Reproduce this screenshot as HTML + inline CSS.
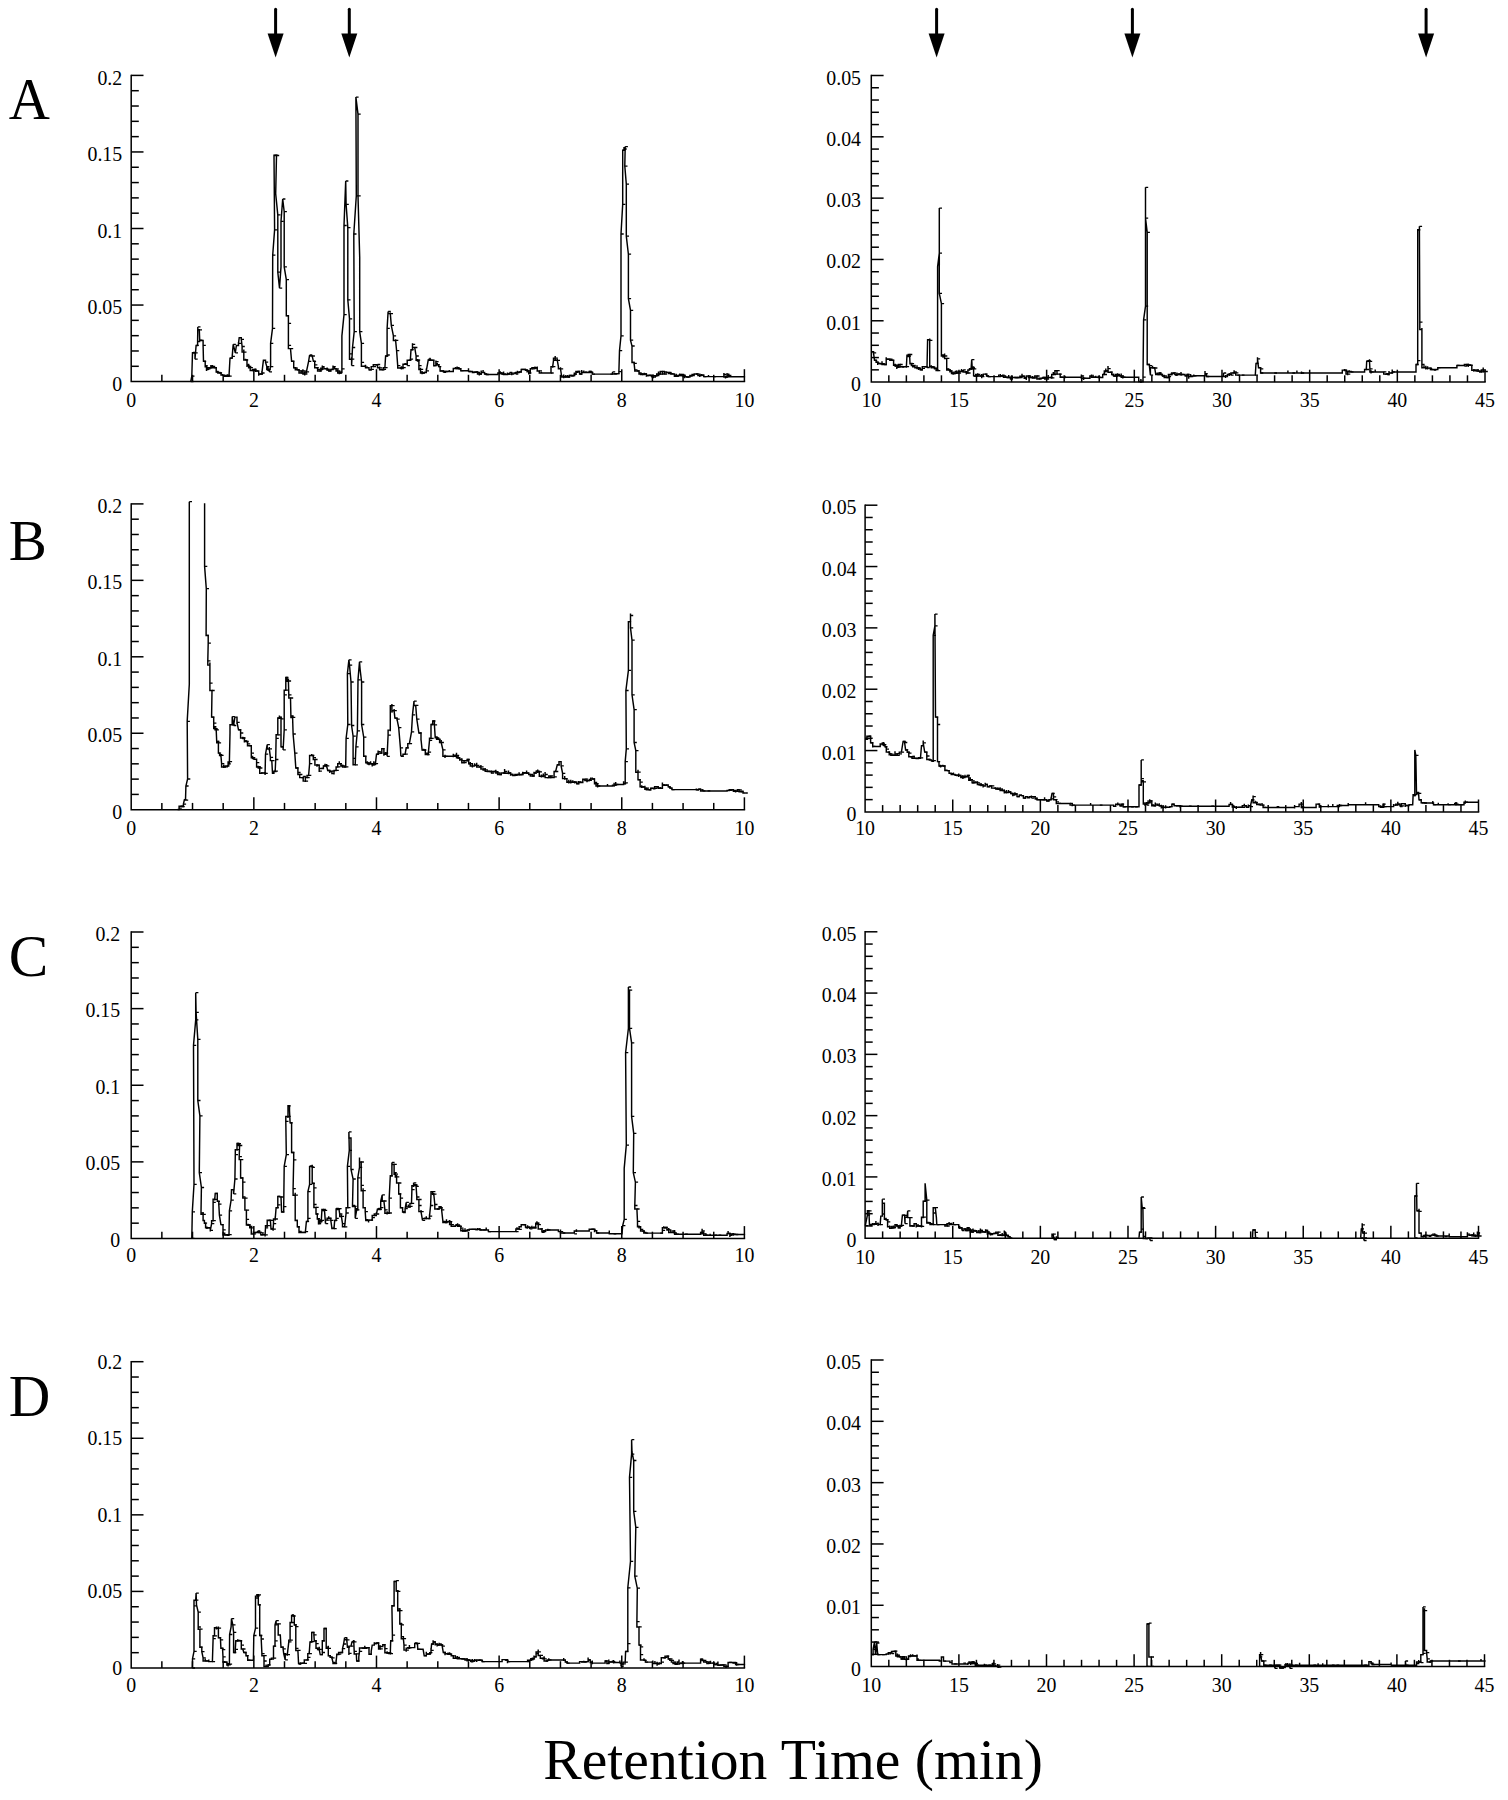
<!DOCTYPE html>
<html lang="en"><head><meta charset="utf-8"><title>Chromatograms</title>
<style>html,body{margin:0;padding:0;background:#fff}body{width:1508px;height:1800px;overflow:hidden}svg text{stroke:none;fill:#000}</style>
</head><body>
<svg width="1508" height="1800" viewBox="0 0 1508 1800" stroke="#000" fill="#000" font-family='"Liberation Serif", "Times New Roman", serif' style="display:block">
<g stroke="#000">
<path d="M131.20 74.65V381.60H745.15" fill="none" stroke-width="1.5"/>
<text transform="translate(122.20 390.80) scale(0.945 1)" text-anchor="end" font-size="21">0</text>
<line x1="131.20" y1="366.29" x2="138.80" y2="366.29" stroke-width="1.5"/>
<line x1="131.20" y1="350.98" x2="138.80" y2="350.98" stroke-width="1.5"/>
<line x1="131.20" y1="335.67" x2="138.80" y2="335.67" stroke-width="1.5"/>
<line x1="131.20" y1="320.36" x2="138.80" y2="320.36" stroke-width="1.5"/>
<line x1="131.20" y1="305.05" x2="143.50" y2="305.05" stroke-width="1.5"/>
<text transform="translate(122.20 314.25) scale(0.945 1)" text-anchor="end" font-size="21">0.05</text>
<line x1="131.20" y1="289.74" x2="138.80" y2="289.74" stroke-width="1.5"/>
<line x1="131.20" y1="274.43" x2="138.80" y2="274.43" stroke-width="1.5"/>
<line x1="131.20" y1="259.12" x2="138.80" y2="259.12" stroke-width="1.5"/>
<line x1="131.20" y1="243.81" x2="138.80" y2="243.81" stroke-width="1.5"/>
<line x1="131.20" y1="228.50" x2="143.50" y2="228.50" stroke-width="1.5"/>
<text transform="translate(122.20 237.70) scale(0.945 1)" text-anchor="end" font-size="21">0.1</text>
<line x1="131.20" y1="213.19" x2="138.80" y2="213.19" stroke-width="1.5"/>
<line x1="131.20" y1="197.88" x2="138.80" y2="197.88" stroke-width="1.5"/>
<line x1="131.20" y1="182.57" x2="138.80" y2="182.57" stroke-width="1.5"/>
<line x1="131.20" y1="167.26" x2="138.80" y2="167.26" stroke-width="1.5"/>
<line x1="131.20" y1="151.95" x2="143.50" y2="151.95" stroke-width="1.5"/>
<text transform="translate(122.20 161.15) scale(0.945 1)" text-anchor="end" font-size="21">0.15</text>
<line x1="131.20" y1="136.64" x2="138.80" y2="136.64" stroke-width="1.5"/>
<line x1="131.20" y1="121.33" x2="138.80" y2="121.33" stroke-width="1.5"/>
<line x1="131.20" y1="106.02" x2="138.80" y2="106.02" stroke-width="1.5"/>
<line x1="131.20" y1="90.71" x2="138.80" y2="90.71" stroke-width="1.5"/>
<line x1="131.20" y1="75.40" x2="143.50" y2="75.40" stroke-width="1.5"/>
<text transform="translate(122.20 84.60) scale(0.945 1)" text-anchor="end" font-size="21">0.2</text>
<text transform="translate(131.20 406.80) scale(0.945 1)" text-anchor="middle" font-size="21">0</text>
<line x1="161.86" y1="381.60" x2="161.86" y2="374.80" stroke-width="1.5"/>
<line x1="192.52" y1="381.60" x2="192.52" y2="374.80" stroke-width="1.5"/>
<line x1="223.18" y1="381.60" x2="223.18" y2="374.80" stroke-width="1.5"/>
<line x1="253.84" y1="381.60" x2="253.84" y2="369.20" stroke-width="1.5"/>
<text transform="translate(253.84 406.80) scale(0.945 1)" text-anchor="middle" font-size="21">2</text>
<line x1="284.50" y1="381.60" x2="284.50" y2="374.80" stroke-width="1.5"/>
<line x1="315.16" y1="381.60" x2="315.16" y2="374.80" stroke-width="1.5"/>
<line x1="345.82" y1="381.60" x2="345.82" y2="374.80" stroke-width="1.5"/>
<line x1="376.48" y1="381.60" x2="376.48" y2="369.20" stroke-width="1.5"/>
<text transform="translate(376.48 406.80) scale(0.945 1)" text-anchor="middle" font-size="21">4</text>
<line x1="407.14" y1="381.60" x2="407.14" y2="374.80" stroke-width="1.5"/>
<line x1="437.80" y1="381.60" x2="437.80" y2="374.80" stroke-width="1.5"/>
<line x1="468.46" y1="381.60" x2="468.46" y2="374.80" stroke-width="1.5"/>
<line x1="499.12" y1="381.60" x2="499.12" y2="369.20" stroke-width="1.5"/>
<text transform="translate(499.12 406.80) scale(0.945 1)" text-anchor="middle" font-size="21">6</text>
<line x1="529.78" y1="381.60" x2="529.78" y2="374.80" stroke-width="1.5"/>
<line x1="560.44" y1="381.60" x2="560.44" y2="374.80" stroke-width="1.5"/>
<line x1="591.10" y1="381.60" x2="591.10" y2="374.80" stroke-width="1.5"/>
<line x1="621.76" y1="381.60" x2="621.76" y2="369.20" stroke-width="1.5"/>
<text transform="translate(621.76 406.80) scale(0.945 1)" text-anchor="middle" font-size="21">8</text>
<line x1="652.42" y1="381.60" x2="652.42" y2="374.80" stroke-width="1.5"/>
<line x1="683.08" y1="381.60" x2="683.08" y2="374.80" stroke-width="1.5"/>
<line x1="713.74" y1="381.60" x2="713.74" y2="374.80" stroke-width="1.5"/>
<line x1="744.40" y1="381.60" x2="744.40" y2="369.20" stroke-width="1.5"/>
<text transform="translate(744.40 406.80) scale(0.945 1)" text-anchor="middle" font-size="21">10</text>
<path d="M131.20 503.15V809.70H745.15" fill="none" stroke-width="1.5"/>
<text transform="translate(122.20 818.50) scale(0.945 1)" text-anchor="end" font-size="21">0</text>
<line x1="131.20" y1="794.41" x2="138.80" y2="794.41" stroke-width="1.5"/>
<line x1="131.20" y1="779.12" x2="138.80" y2="779.12" stroke-width="1.5"/>
<line x1="131.20" y1="763.83" x2="138.80" y2="763.83" stroke-width="1.5"/>
<line x1="131.20" y1="748.54" x2="138.80" y2="748.54" stroke-width="1.5"/>
<line x1="131.20" y1="733.25" x2="143.50" y2="733.25" stroke-width="1.5"/>
<text transform="translate(122.20 742.05) scale(0.945 1)" text-anchor="end" font-size="21">0.05</text>
<line x1="131.20" y1="717.96" x2="138.80" y2="717.96" stroke-width="1.5"/>
<line x1="131.20" y1="702.67" x2="138.80" y2="702.67" stroke-width="1.5"/>
<line x1="131.20" y1="687.38" x2="138.80" y2="687.38" stroke-width="1.5"/>
<line x1="131.20" y1="672.09" x2="138.80" y2="672.09" stroke-width="1.5"/>
<line x1="131.20" y1="656.80" x2="143.50" y2="656.80" stroke-width="1.5"/>
<text transform="translate(122.20 665.60) scale(0.945 1)" text-anchor="end" font-size="21">0.1</text>
<line x1="131.20" y1="641.51" x2="138.80" y2="641.51" stroke-width="1.5"/>
<line x1="131.20" y1="626.22" x2="138.80" y2="626.22" stroke-width="1.5"/>
<line x1="131.20" y1="610.93" x2="138.80" y2="610.93" stroke-width="1.5"/>
<line x1="131.20" y1="595.64" x2="138.80" y2="595.64" stroke-width="1.5"/>
<line x1="131.20" y1="580.35" x2="143.50" y2="580.35" stroke-width="1.5"/>
<text transform="translate(122.20 589.15) scale(0.945 1)" text-anchor="end" font-size="21">0.15</text>
<line x1="131.20" y1="565.06" x2="138.80" y2="565.06" stroke-width="1.5"/>
<line x1="131.20" y1="549.77" x2="138.80" y2="549.77" stroke-width="1.5"/>
<line x1="131.20" y1="534.48" x2="138.80" y2="534.48" stroke-width="1.5"/>
<line x1="131.20" y1="519.19" x2="138.80" y2="519.19" stroke-width="1.5"/>
<line x1="131.20" y1="503.90" x2="143.50" y2="503.90" stroke-width="1.5"/>
<text transform="translate(122.20 512.70) scale(0.945 1)" text-anchor="end" font-size="21">0.2</text>
<text transform="translate(131.20 835.10) scale(0.945 1)" text-anchor="middle" font-size="21">0</text>
<line x1="161.86" y1="809.70" x2="161.86" y2="802.90" stroke-width="1.5"/>
<line x1="192.52" y1="809.70" x2="192.52" y2="802.90" stroke-width="1.5"/>
<line x1="223.18" y1="809.70" x2="223.18" y2="802.90" stroke-width="1.5"/>
<line x1="253.84" y1="809.70" x2="253.84" y2="797.30" stroke-width="1.5"/>
<text transform="translate(253.84 835.10) scale(0.945 1)" text-anchor="middle" font-size="21">2</text>
<line x1="284.50" y1="809.70" x2="284.50" y2="802.90" stroke-width="1.5"/>
<line x1="315.16" y1="809.70" x2="315.16" y2="802.90" stroke-width="1.5"/>
<line x1="345.82" y1="809.70" x2="345.82" y2="802.90" stroke-width="1.5"/>
<line x1="376.48" y1="809.70" x2="376.48" y2="797.30" stroke-width="1.5"/>
<text transform="translate(376.48 835.10) scale(0.945 1)" text-anchor="middle" font-size="21">4</text>
<line x1="407.14" y1="809.70" x2="407.14" y2="802.90" stroke-width="1.5"/>
<line x1="437.80" y1="809.70" x2="437.80" y2="802.90" stroke-width="1.5"/>
<line x1="468.46" y1="809.70" x2="468.46" y2="802.90" stroke-width="1.5"/>
<line x1="499.12" y1="809.70" x2="499.12" y2="797.30" stroke-width="1.5"/>
<text transform="translate(499.12 835.10) scale(0.945 1)" text-anchor="middle" font-size="21">6</text>
<line x1="529.78" y1="809.70" x2="529.78" y2="802.90" stroke-width="1.5"/>
<line x1="560.44" y1="809.70" x2="560.44" y2="802.90" stroke-width="1.5"/>
<line x1="591.10" y1="809.70" x2="591.10" y2="802.90" stroke-width="1.5"/>
<line x1="621.76" y1="809.70" x2="621.76" y2="797.30" stroke-width="1.5"/>
<text transform="translate(621.76 835.10) scale(0.945 1)" text-anchor="middle" font-size="21">8</text>
<line x1="652.42" y1="809.70" x2="652.42" y2="802.90" stroke-width="1.5"/>
<line x1="683.08" y1="809.70" x2="683.08" y2="802.90" stroke-width="1.5"/>
<line x1="713.74" y1="809.70" x2="713.74" y2="802.90" stroke-width="1.5"/>
<line x1="744.40" y1="809.70" x2="744.40" y2="797.30" stroke-width="1.5"/>
<text transform="translate(744.40 835.10) scale(0.945 1)" text-anchor="middle" font-size="21">10</text>
<path d="M131.20 931.25V1238.50H745.15" fill="none" stroke-width="1.5"/>
<text transform="translate(120.20 1247.10) scale(0.945 1)" text-anchor="end" font-size="21">0</text>
<line x1="131.20" y1="1223.17" x2="138.80" y2="1223.17" stroke-width="1.5"/>
<line x1="131.20" y1="1207.85" x2="138.80" y2="1207.85" stroke-width="1.5"/>
<line x1="131.20" y1="1192.53" x2="138.80" y2="1192.53" stroke-width="1.5"/>
<line x1="131.20" y1="1177.20" x2="138.80" y2="1177.20" stroke-width="1.5"/>
<line x1="131.20" y1="1161.88" x2="143.50" y2="1161.88" stroke-width="1.5"/>
<text transform="translate(120.20 1170.47) scale(0.945 1)" text-anchor="end" font-size="21">0.05</text>
<line x1="131.20" y1="1146.55" x2="138.80" y2="1146.55" stroke-width="1.5"/>
<line x1="131.20" y1="1131.22" x2="138.80" y2="1131.22" stroke-width="1.5"/>
<line x1="131.20" y1="1115.90" x2="138.80" y2="1115.90" stroke-width="1.5"/>
<line x1="131.20" y1="1100.58" x2="138.80" y2="1100.58" stroke-width="1.5"/>
<line x1="131.20" y1="1085.25" x2="143.50" y2="1085.25" stroke-width="1.5"/>
<text transform="translate(120.20 1093.85) scale(0.945 1)" text-anchor="end" font-size="21">0.1</text>
<line x1="131.20" y1="1069.92" x2="138.80" y2="1069.92" stroke-width="1.5"/>
<line x1="131.20" y1="1054.60" x2="138.80" y2="1054.60" stroke-width="1.5"/>
<line x1="131.20" y1="1039.28" x2="138.80" y2="1039.28" stroke-width="1.5"/>
<line x1="131.20" y1="1023.95" x2="138.80" y2="1023.95" stroke-width="1.5"/>
<line x1="131.20" y1="1008.62" x2="143.50" y2="1008.62" stroke-width="1.5"/>
<text transform="translate(120.20 1017.23) scale(0.945 1)" text-anchor="end" font-size="21">0.15</text>
<line x1="131.20" y1="993.30" x2="138.80" y2="993.30" stroke-width="1.5"/>
<line x1="131.20" y1="977.98" x2="138.80" y2="977.98" stroke-width="1.5"/>
<line x1="131.20" y1="962.65" x2="138.80" y2="962.65" stroke-width="1.5"/>
<line x1="131.20" y1="947.33" x2="138.80" y2="947.33" stroke-width="1.5"/>
<line x1="131.20" y1="932.00" x2="143.50" y2="932.00" stroke-width="1.5"/>
<text transform="translate(120.20 940.60) scale(0.945 1)" text-anchor="end" font-size="21">0.2</text>
<text transform="translate(131.20 1262.20) scale(0.945 1)" text-anchor="middle" font-size="21">0</text>
<line x1="161.86" y1="1238.50" x2="161.86" y2="1231.70" stroke-width="1.5"/>
<line x1="192.52" y1="1238.50" x2="192.52" y2="1231.70" stroke-width="1.5"/>
<line x1="223.18" y1="1238.50" x2="223.18" y2="1231.70" stroke-width="1.5"/>
<line x1="253.84" y1="1238.50" x2="253.84" y2="1226.10" stroke-width="1.5"/>
<text transform="translate(253.84 1262.20) scale(0.945 1)" text-anchor="middle" font-size="21">2</text>
<line x1="284.50" y1="1238.50" x2="284.50" y2="1231.70" stroke-width="1.5"/>
<line x1="315.16" y1="1238.50" x2="315.16" y2="1231.70" stroke-width="1.5"/>
<line x1="345.82" y1="1238.50" x2="345.82" y2="1231.70" stroke-width="1.5"/>
<line x1="376.48" y1="1238.50" x2="376.48" y2="1226.10" stroke-width="1.5"/>
<text transform="translate(376.48 1262.20) scale(0.945 1)" text-anchor="middle" font-size="21">4</text>
<line x1="407.14" y1="1238.50" x2="407.14" y2="1231.70" stroke-width="1.5"/>
<line x1="437.80" y1="1238.50" x2="437.80" y2="1231.70" stroke-width="1.5"/>
<line x1="468.46" y1="1238.50" x2="468.46" y2="1231.70" stroke-width="1.5"/>
<line x1="499.12" y1="1238.50" x2="499.12" y2="1226.10" stroke-width="1.5"/>
<text transform="translate(499.12 1262.20) scale(0.945 1)" text-anchor="middle" font-size="21">6</text>
<line x1="529.78" y1="1238.50" x2="529.78" y2="1231.70" stroke-width="1.5"/>
<line x1="560.44" y1="1238.50" x2="560.44" y2="1231.70" stroke-width="1.5"/>
<line x1="591.10" y1="1238.50" x2="591.10" y2="1231.70" stroke-width="1.5"/>
<line x1="621.76" y1="1238.50" x2="621.76" y2="1226.10" stroke-width="1.5"/>
<text transform="translate(621.76 1262.20) scale(0.945 1)" text-anchor="middle" font-size="21">8</text>
<line x1="652.42" y1="1238.50" x2="652.42" y2="1231.70" stroke-width="1.5"/>
<line x1="683.08" y1="1238.50" x2="683.08" y2="1231.70" stroke-width="1.5"/>
<line x1="713.74" y1="1238.50" x2="713.74" y2="1231.70" stroke-width="1.5"/>
<line x1="744.40" y1="1238.50" x2="744.40" y2="1226.10" stroke-width="1.5"/>
<text transform="translate(744.40 1262.20) scale(0.945 1)" text-anchor="middle" font-size="21">10</text>
<path d="M131.20 1360.95V1668.00H745.15" fill="none" stroke-width="1.5"/>
<text transform="translate(122.20 1675.00) scale(0.945 1)" text-anchor="end" font-size="21">0</text>
<line x1="131.20" y1="1652.68" x2="138.80" y2="1652.68" stroke-width="1.5"/>
<line x1="131.20" y1="1637.37" x2="138.80" y2="1637.37" stroke-width="1.5"/>
<line x1="131.20" y1="1622.06" x2="138.80" y2="1622.06" stroke-width="1.5"/>
<line x1="131.20" y1="1606.74" x2="138.80" y2="1606.74" stroke-width="1.5"/>
<line x1="131.20" y1="1591.42" x2="143.50" y2="1591.42" stroke-width="1.5"/>
<text transform="translate(122.20 1598.42) scale(0.945 1)" text-anchor="end" font-size="21">0.05</text>
<line x1="131.20" y1="1576.11" x2="138.80" y2="1576.11" stroke-width="1.5"/>
<line x1="131.20" y1="1560.80" x2="138.80" y2="1560.80" stroke-width="1.5"/>
<line x1="131.20" y1="1545.48" x2="138.80" y2="1545.48" stroke-width="1.5"/>
<line x1="131.20" y1="1530.16" x2="138.80" y2="1530.16" stroke-width="1.5"/>
<line x1="131.20" y1="1514.85" x2="143.50" y2="1514.85" stroke-width="1.5"/>
<text transform="translate(122.20 1521.85) scale(0.945 1)" text-anchor="end" font-size="21">0.1</text>
<line x1="131.20" y1="1499.54" x2="138.80" y2="1499.54" stroke-width="1.5"/>
<line x1="131.20" y1="1484.22" x2="138.80" y2="1484.22" stroke-width="1.5"/>
<line x1="131.20" y1="1468.90" x2="138.80" y2="1468.90" stroke-width="1.5"/>
<line x1="131.20" y1="1453.59" x2="138.80" y2="1453.59" stroke-width="1.5"/>
<line x1="131.20" y1="1438.28" x2="143.50" y2="1438.28" stroke-width="1.5"/>
<text transform="translate(122.20 1445.28) scale(0.945 1)" text-anchor="end" font-size="21">0.15</text>
<line x1="131.20" y1="1422.96" x2="138.80" y2="1422.96" stroke-width="1.5"/>
<line x1="131.20" y1="1407.64" x2="138.80" y2="1407.64" stroke-width="1.5"/>
<line x1="131.20" y1="1392.33" x2="138.80" y2="1392.33" stroke-width="1.5"/>
<line x1="131.20" y1="1377.02" x2="138.80" y2="1377.02" stroke-width="1.5"/>
<line x1="131.20" y1="1361.70" x2="143.50" y2="1361.70" stroke-width="1.5"/>
<text transform="translate(122.20 1368.70) scale(0.945 1)" text-anchor="end" font-size="21">0.2</text>
<text transform="translate(131.20 1691.80) scale(0.945 1)" text-anchor="middle" font-size="21">0</text>
<line x1="161.86" y1="1668.00" x2="161.86" y2="1661.20" stroke-width="1.5"/>
<line x1="192.52" y1="1668.00" x2="192.52" y2="1661.20" stroke-width="1.5"/>
<line x1="223.18" y1="1668.00" x2="223.18" y2="1661.20" stroke-width="1.5"/>
<line x1="253.84" y1="1668.00" x2="253.84" y2="1655.60" stroke-width="1.5"/>
<text transform="translate(253.84 1691.80) scale(0.945 1)" text-anchor="middle" font-size="21">2</text>
<line x1="284.50" y1="1668.00" x2="284.50" y2="1661.20" stroke-width="1.5"/>
<line x1="315.16" y1="1668.00" x2="315.16" y2="1661.20" stroke-width="1.5"/>
<line x1="345.82" y1="1668.00" x2="345.82" y2="1661.20" stroke-width="1.5"/>
<line x1="376.48" y1="1668.00" x2="376.48" y2="1655.60" stroke-width="1.5"/>
<text transform="translate(376.48 1691.80) scale(0.945 1)" text-anchor="middle" font-size="21">4</text>
<line x1="407.14" y1="1668.00" x2="407.14" y2="1661.20" stroke-width="1.5"/>
<line x1="437.80" y1="1668.00" x2="437.80" y2="1661.20" stroke-width="1.5"/>
<line x1="468.46" y1="1668.00" x2="468.46" y2="1661.20" stroke-width="1.5"/>
<line x1="499.12" y1="1668.00" x2="499.12" y2="1655.60" stroke-width="1.5"/>
<text transform="translate(499.12 1691.80) scale(0.945 1)" text-anchor="middle" font-size="21">6</text>
<line x1="529.78" y1="1668.00" x2="529.78" y2="1661.20" stroke-width="1.5"/>
<line x1="560.44" y1="1668.00" x2="560.44" y2="1661.20" stroke-width="1.5"/>
<line x1="591.10" y1="1668.00" x2="591.10" y2="1661.20" stroke-width="1.5"/>
<line x1="621.76" y1="1668.00" x2="621.76" y2="1655.60" stroke-width="1.5"/>
<text transform="translate(621.76 1691.80) scale(0.945 1)" text-anchor="middle" font-size="21">8</text>
<line x1="652.42" y1="1668.00" x2="652.42" y2="1661.20" stroke-width="1.5"/>
<line x1="683.08" y1="1668.00" x2="683.08" y2="1661.20" stroke-width="1.5"/>
<line x1="713.74" y1="1668.00" x2="713.74" y2="1661.20" stroke-width="1.5"/>
<line x1="744.40" y1="1668.00" x2="744.40" y2="1655.60" stroke-width="1.5"/>
<text transform="translate(744.40 1691.80) scale(0.945 1)" text-anchor="middle" font-size="21">10</text>
<path d="M871.30 74.75V382.10H1485.75" fill="none" stroke-width="1.5"/>
<text transform="translate(861.00 391.10) scale(0.945 1)" text-anchor="end" font-size="21">0</text>
<line x1="871.30" y1="369.84" x2="878.90" y2="369.84" stroke-width="1.5"/>
<line x1="871.30" y1="357.57" x2="878.90" y2="357.57" stroke-width="1.5"/>
<line x1="871.30" y1="345.31" x2="878.90" y2="345.31" stroke-width="1.5"/>
<line x1="871.30" y1="333.04" x2="878.90" y2="333.04" stroke-width="1.5"/>
<line x1="871.30" y1="320.78" x2="883.60" y2="320.78" stroke-width="1.5"/>
<text transform="translate(861.00 329.78) scale(0.945 1)" text-anchor="end" font-size="21">0.01</text>
<line x1="871.30" y1="308.52" x2="878.90" y2="308.52" stroke-width="1.5"/>
<line x1="871.30" y1="296.25" x2="878.90" y2="296.25" stroke-width="1.5"/>
<line x1="871.30" y1="283.99" x2="878.90" y2="283.99" stroke-width="1.5"/>
<line x1="871.30" y1="271.72" x2="878.90" y2="271.72" stroke-width="1.5"/>
<line x1="871.30" y1="259.46" x2="883.60" y2="259.46" stroke-width="1.5"/>
<text transform="translate(861.00 268.46) scale(0.945 1)" text-anchor="end" font-size="21">0.02</text>
<line x1="871.30" y1="247.20" x2="878.90" y2="247.20" stroke-width="1.5"/>
<line x1="871.30" y1="234.93" x2="878.90" y2="234.93" stroke-width="1.5"/>
<line x1="871.30" y1="222.67" x2="878.90" y2="222.67" stroke-width="1.5"/>
<line x1="871.30" y1="210.40" x2="878.90" y2="210.40" stroke-width="1.5"/>
<line x1="871.30" y1="198.14" x2="883.60" y2="198.14" stroke-width="1.5"/>
<text transform="translate(861.00 207.14) scale(0.945 1)" text-anchor="end" font-size="21">0.03</text>
<line x1="871.30" y1="185.88" x2="878.90" y2="185.88" stroke-width="1.5"/>
<line x1="871.30" y1="173.61" x2="878.90" y2="173.61" stroke-width="1.5"/>
<line x1="871.30" y1="161.35" x2="878.90" y2="161.35" stroke-width="1.5"/>
<line x1="871.30" y1="149.08" x2="878.90" y2="149.08" stroke-width="1.5"/>
<line x1="871.30" y1="136.82" x2="883.60" y2="136.82" stroke-width="1.5"/>
<text transform="translate(861.00 145.82) scale(0.945 1)" text-anchor="end" font-size="21">0.04</text>
<line x1="871.30" y1="124.56" x2="878.90" y2="124.56" stroke-width="1.5"/>
<line x1="871.30" y1="112.29" x2="878.90" y2="112.29" stroke-width="1.5"/>
<line x1="871.30" y1="100.03" x2="878.90" y2="100.03" stroke-width="1.5"/>
<line x1="871.30" y1="87.76" x2="878.90" y2="87.76" stroke-width="1.5"/>
<line x1="871.30" y1="75.50" x2="883.60" y2="75.50" stroke-width="1.5"/>
<text transform="translate(861.00 84.50) scale(0.945 1)" text-anchor="end" font-size="21">0.05</text>
<text transform="translate(871.30 406.90) scale(0.945 1)" text-anchor="middle" font-size="21">10</text>
<line x1="888.83" y1="382.10" x2="888.83" y2="375.30" stroke-width="1.5"/>
<line x1="906.37" y1="382.10" x2="906.37" y2="375.30" stroke-width="1.5"/>
<line x1="923.90" y1="382.10" x2="923.90" y2="375.30" stroke-width="1.5"/>
<line x1="941.44" y1="382.10" x2="941.44" y2="375.30" stroke-width="1.5"/>
<line x1="958.97" y1="382.10" x2="958.97" y2="369.70" stroke-width="1.5"/>
<text transform="translate(958.97 406.90) scale(0.945 1)" text-anchor="middle" font-size="21">15</text>
<line x1="976.51" y1="382.10" x2="976.51" y2="375.30" stroke-width="1.5"/>
<line x1="994.04" y1="382.10" x2="994.04" y2="375.30" stroke-width="1.5"/>
<line x1="1011.57" y1="382.10" x2="1011.57" y2="375.30" stroke-width="1.5"/>
<line x1="1029.11" y1="382.10" x2="1029.11" y2="375.30" stroke-width="1.5"/>
<line x1="1046.64" y1="382.10" x2="1046.64" y2="369.70" stroke-width="1.5"/>
<text transform="translate(1046.64 406.90) scale(0.945 1)" text-anchor="middle" font-size="21">20</text>
<line x1="1064.18" y1="382.10" x2="1064.18" y2="375.30" stroke-width="1.5"/>
<line x1="1081.71" y1="382.10" x2="1081.71" y2="375.30" stroke-width="1.5"/>
<line x1="1099.25" y1="382.10" x2="1099.25" y2="375.30" stroke-width="1.5"/>
<line x1="1116.78" y1="382.10" x2="1116.78" y2="375.30" stroke-width="1.5"/>
<line x1="1134.31" y1="382.10" x2="1134.31" y2="369.70" stroke-width="1.5"/>
<text transform="translate(1134.31 406.90) scale(0.945 1)" text-anchor="middle" font-size="21">25</text>
<line x1="1151.85" y1="382.10" x2="1151.85" y2="375.30" stroke-width="1.5"/>
<line x1="1169.38" y1="382.10" x2="1169.38" y2="375.30" stroke-width="1.5"/>
<line x1="1186.92" y1="382.10" x2="1186.92" y2="375.30" stroke-width="1.5"/>
<line x1="1204.45" y1="382.10" x2="1204.45" y2="375.30" stroke-width="1.5"/>
<line x1="1221.99" y1="382.10" x2="1221.99" y2="369.70" stroke-width="1.5"/>
<text transform="translate(1221.99 406.90) scale(0.945 1)" text-anchor="middle" font-size="21">30</text>
<line x1="1239.52" y1="382.10" x2="1239.52" y2="375.30" stroke-width="1.5"/>
<line x1="1257.05" y1="382.10" x2="1257.05" y2="375.30" stroke-width="1.5"/>
<line x1="1274.59" y1="382.10" x2="1274.59" y2="375.30" stroke-width="1.5"/>
<line x1="1292.12" y1="382.10" x2="1292.12" y2="375.30" stroke-width="1.5"/>
<line x1="1309.66" y1="382.10" x2="1309.66" y2="369.70" stroke-width="1.5"/>
<text transform="translate(1309.66 406.90) scale(0.945 1)" text-anchor="middle" font-size="21">35</text>
<line x1="1327.19" y1="382.10" x2="1327.19" y2="375.30" stroke-width="1.5"/>
<line x1="1344.73" y1="382.10" x2="1344.73" y2="375.30" stroke-width="1.5"/>
<line x1="1362.26" y1="382.10" x2="1362.26" y2="375.30" stroke-width="1.5"/>
<line x1="1379.79" y1="382.10" x2="1379.79" y2="375.30" stroke-width="1.5"/>
<line x1="1397.33" y1="382.10" x2="1397.33" y2="369.70" stroke-width="1.5"/>
<text transform="translate(1397.33 406.90) scale(0.945 1)" text-anchor="middle" font-size="21">40</text>
<line x1="1414.86" y1="382.10" x2="1414.86" y2="375.30" stroke-width="1.5"/>
<line x1="1432.40" y1="382.10" x2="1432.40" y2="375.30" stroke-width="1.5"/>
<line x1="1449.93" y1="382.10" x2="1449.93" y2="375.30" stroke-width="1.5"/>
<line x1="1467.47" y1="382.10" x2="1467.47" y2="375.30" stroke-width="1.5"/>
<line x1="1485.00" y1="382.10" x2="1485.00" y2="369.70" stroke-width="1.5"/>
<text transform="translate(1485.00 406.90) scale(0.945 1)" text-anchor="middle" font-size="21">45</text>
<path d="M865.10 504.45V811.90H1479.25" fill="none" stroke-width="1.5"/>
<text transform="translate(856.50 820.90) scale(0.945 1)" text-anchor="end" font-size="21">0</text>
<line x1="865.10" y1="799.63" x2="872.70" y2="799.63" stroke-width="1.5"/>
<line x1="865.10" y1="787.36" x2="872.70" y2="787.36" stroke-width="1.5"/>
<line x1="865.10" y1="775.10" x2="872.70" y2="775.10" stroke-width="1.5"/>
<line x1="865.10" y1="762.83" x2="872.70" y2="762.83" stroke-width="1.5"/>
<line x1="865.10" y1="750.56" x2="877.40" y2="750.56" stroke-width="1.5"/>
<text transform="translate(856.50 759.56) scale(0.945 1)" text-anchor="end" font-size="21">0.01</text>
<line x1="865.10" y1="738.29" x2="872.70" y2="738.29" stroke-width="1.5"/>
<line x1="865.10" y1="726.02" x2="872.70" y2="726.02" stroke-width="1.5"/>
<line x1="865.10" y1="713.76" x2="872.70" y2="713.76" stroke-width="1.5"/>
<line x1="865.10" y1="701.49" x2="872.70" y2="701.49" stroke-width="1.5"/>
<line x1="865.10" y1="689.22" x2="877.40" y2="689.22" stroke-width="1.5"/>
<text transform="translate(856.50 698.22) scale(0.945 1)" text-anchor="end" font-size="21">0.02</text>
<line x1="865.10" y1="676.95" x2="872.70" y2="676.95" stroke-width="1.5"/>
<line x1="865.10" y1="664.68" x2="872.70" y2="664.68" stroke-width="1.5"/>
<line x1="865.10" y1="652.42" x2="872.70" y2="652.42" stroke-width="1.5"/>
<line x1="865.10" y1="640.15" x2="872.70" y2="640.15" stroke-width="1.5"/>
<line x1="865.10" y1="627.88" x2="877.40" y2="627.88" stroke-width="1.5"/>
<text transform="translate(856.50 636.88) scale(0.945 1)" text-anchor="end" font-size="21">0.03</text>
<line x1="865.10" y1="615.61" x2="872.70" y2="615.61" stroke-width="1.5"/>
<line x1="865.10" y1="603.34" x2="872.70" y2="603.34" stroke-width="1.5"/>
<line x1="865.10" y1="591.08" x2="872.70" y2="591.08" stroke-width="1.5"/>
<line x1="865.10" y1="578.81" x2="872.70" y2="578.81" stroke-width="1.5"/>
<line x1="865.10" y1="566.54" x2="877.40" y2="566.54" stroke-width="1.5"/>
<text transform="translate(856.50 575.54) scale(0.945 1)" text-anchor="end" font-size="21">0.04</text>
<line x1="865.10" y1="554.27" x2="872.70" y2="554.27" stroke-width="1.5"/>
<line x1="865.10" y1="542.00" x2="872.70" y2="542.00" stroke-width="1.5"/>
<line x1="865.10" y1="529.74" x2="872.70" y2="529.74" stroke-width="1.5"/>
<line x1="865.10" y1="517.47" x2="872.70" y2="517.47" stroke-width="1.5"/>
<line x1="865.10" y1="505.20" x2="877.40" y2="505.20" stroke-width="1.5"/>
<text transform="translate(856.50 514.20) scale(0.945 1)" text-anchor="end" font-size="21">0.05</text>
<text transform="translate(865.10 835.30) scale(0.945 1)" text-anchor="middle" font-size="21">10</text>
<line x1="882.63" y1="811.90" x2="882.63" y2="805.10" stroke-width="1.5"/>
<line x1="900.15" y1="811.90" x2="900.15" y2="805.10" stroke-width="1.5"/>
<line x1="917.68" y1="811.90" x2="917.68" y2="805.10" stroke-width="1.5"/>
<line x1="935.20" y1="811.90" x2="935.20" y2="805.10" stroke-width="1.5"/>
<line x1="952.73" y1="811.90" x2="952.73" y2="799.50" stroke-width="1.5"/>
<text transform="translate(952.73 835.30) scale(0.945 1)" text-anchor="middle" font-size="21">15</text>
<line x1="970.25" y1="811.90" x2="970.25" y2="805.10" stroke-width="1.5"/>
<line x1="987.78" y1="811.90" x2="987.78" y2="805.10" stroke-width="1.5"/>
<line x1="1005.31" y1="811.90" x2="1005.31" y2="805.10" stroke-width="1.5"/>
<line x1="1022.83" y1="811.90" x2="1022.83" y2="805.10" stroke-width="1.5"/>
<line x1="1040.36" y1="811.90" x2="1040.36" y2="799.50" stroke-width="1.5"/>
<text transform="translate(1040.36 835.30) scale(0.945 1)" text-anchor="middle" font-size="21">20</text>
<line x1="1057.88" y1="811.90" x2="1057.88" y2="805.10" stroke-width="1.5"/>
<line x1="1075.41" y1="811.90" x2="1075.41" y2="805.10" stroke-width="1.5"/>
<line x1="1092.93" y1="811.90" x2="1092.93" y2="805.10" stroke-width="1.5"/>
<line x1="1110.46" y1="811.90" x2="1110.46" y2="805.10" stroke-width="1.5"/>
<line x1="1127.99" y1="811.90" x2="1127.99" y2="799.50" stroke-width="1.5"/>
<text transform="translate(1127.99 835.30) scale(0.945 1)" text-anchor="middle" font-size="21">25</text>
<line x1="1145.51" y1="811.90" x2="1145.51" y2="805.10" stroke-width="1.5"/>
<line x1="1163.04" y1="811.90" x2="1163.04" y2="805.10" stroke-width="1.5"/>
<line x1="1180.56" y1="811.90" x2="1180.56" y2="805.10" stroke-width="1.5"/>
<line x1="1198.09" y1="811.90" x2="1198.09" y2="805.10" stroke-width="1.5"/>
<line x1="1215.61" y1="811.90" x2="1215.61" y2="799.50" stroke-width="1.5"/>
<text transform="translate(1215.61 835.30) scale(0.945 1)" text-anchor="middle" font-size="21">30</text>
<line x1="1233.14" y1="811.90" x2="1233.14" y2="805.10" stroke-width="1.5"/>
<line x1="1250.67" y1="811.90" x2="1250.67" y2="805.10" stroke-width="1.5"/>
<line x1="1268.19" y1="811.90" x2="1268.19" y2="805.10" stroke-width="1.5"/>
<line x1="1285.72" y1="811.90" x2="1285.72" y2="805.10" stroke-width="1.5"/>
<line x1="1303.24" y1="811.90" x2="1303.24" y2="799.50" stroke-width="1.5"/>
<text transform="translate(1303.24 835.30) scale(0.945 1)" text-anchor="middle" font-size="21">35</text>
<line x1="1320.77" y1="811.90" x2="1320.77" y2="805.10" stroke-width="1.5"/>
<line x1="1338.29" y1="811.90" x2="1338.29" y2="805.10" stroke-width="1.5"/>
<line x1="1355.82" y1="811.90" x2="1355.82" y2="805.10" stroke-width="1.5"/>
<line x1="1373.35" y1="811.90" x2="1373.35" y2="805.10" stroke-width="1.5"/>
<line x1="1390.87" y1="811.90" x2="1390.87" y2="799.50" stroke-width="1.5"/>
<text transform="translate(1390.87 835.30) scale(0.945 1)" text-anchor="middle" font-size="21">40</text>
<line x1="1408.40" y1="811.90" x2="1408.40" y2="805.10" stroke-width="1.5"/>
<line x1="1425.92" y1="811.90" x2="1425.92" y2="805.10" stroke-width="1.5"/>
<line x1="1443.45" y1="811.90" x2="1443.45" y2="805.10" stroke-width="1.5"/>
<line x1="1460.97" y1="811.90" x2="1460.97" y2="805.10" stroke-width="1.5"/>
<line x1="1478.50" y1="811.90" x2="1478.50" y2="799.50" stroke-width="1.5"/>
<text transform="translate(1478.50 835.30) scale(0.945 1)" text-anchor="middle" font-size="21">45</text>
<path d="M865.10 931.05V1238.20H1479.25" fill="none" stroke-width="1.5"/>
<text transform="translate(856.50 1247.30) scale(0.945 1)" text-anchor="end" font-size="21">0</text>
<line x1="865.10" y1="1225.94" x2="872.70" y2="1225.94" stroke-width="1.5"/>
<line x1="865.10" y1="1213.69" x2="872.70" y2="1213.69" stroke-width="1.5"/>
<line x1="865.10" y1="1201.43" x2="872.70" y2="1201.43" stroke-width="1.5"/>
<line x1="865.10" y1="1189.18" x2="872.70" y2="1189.18" stroke-width="1.5"/>
<line x1="865.10" y1="1176.92" x2="877.40" y2="1176.92" stroke-width="1.5"/>
<text transform="translate(856.50 1186.02) scale(0.945 1)" text-anchor="end" font-size="21">0.01</text>
<line x1="865.10" y1="1164.66" x2="872.70" y2="1164.66" stroke-width="1.5"/>
<line x1="865.10" y1="1152.41" x2="872.70" y2="1152.41" stroke-width="1.5"/>
<line x1="865.10" y1="1140.15" x2="872.70" y2="1140.15" stroke-width="1.5"/>
<line x1="865.10" y1="1127.90" x2="872.70" y2="1127.90" stroke-width="1.5"/>
<line x1="865.10" y1="1115.64" x2="877.40" y2="1115.64" stroke-width="1.5"/>
<text transform="translate(856.50 1124.74) scale(0.945 1)" text-anchor="end" font-size="21">0.02</text>
<line x1="865.10" y1="1103.38" x2="872.70" y2="1103.38" stroke-width="1.5"/>
<line x1="865.10" y1="1091.13" x2="872.70" y2="1091.13" stroke-width="1.5"/>
<line x1="865.10" y1="1078.87" x2="872.70" y2="1078.87" stroke-width="1.5"/>
<line x1="865.10" y1="1066.62" x2="872.70" y2="1066.62" stroke-width="1.5"/>
<line x1="865.10" y1="1054.36" x2="877.40" y2="1054.36" stroke-width="1.5"/>
<text transform="translate(856.50 1063.46) scale(0.945 1)" text-anchor="end" font-size="21">0.03</text>
<line x1="865.10" y1="1042.10" x2="872.70" y2="1042.10" stroke-width="1.5"/>
<line x1="865.10" y1="1029.85" x2="872.70" y2="1029.85" stroke-width="1.5"/>
<line x1="865.10" y1="1017.59" x2="872.70" y2="1017.59" stroke-width="1.5"/>
<line x1="865.10" y1="1005.34" x2="872.70" y2="1005.34" stroke-width="1.5"/>
<line x1="865.10" y1="993.08" x2="877.40" y2="993.08" stroke-width="1.5"/>
<text transform="translate(856.50 1002.18) scale(0.945 1)" text-anchor="end" font-size="21">0.04</text>
<line x1="865.10" y1="980.82" x2="872.70" y2="980.82" stroke-width="1.5"/>
<line x1="865.10" y1="968.57" x2="872.70" y2="968.57" stroke-width="1.5"/>
<line x1="865.10" y1="956.31" x2="872.70" y2="956.31" stroke-width="1.5"/>
<line x1="865.10" y1="944.06" x2="872.70" y2="944.06" stroke-width="1.5"/>
<line x1="865.10" y1="931.80" x2="877.40" y2="931.80" stroke-width="1.5"/>
<text transform="translate(856.50 940.90) scale(0.945 1)" text-anchor="end" font-size="21">0.05</text>
<text transform="translate(865.10 1263.70) scale(0.945 1)" text-anchor="middle" font-size="21">10</text>
<line x1="882.63" y1="1238.20" x2="882.63" y2="1231.40" stroke-width="1.5"/>
<line x1="900.15" y1="1238.20" x2="900.15" y2="1231.40" stroke-width="1.5"/>
<line x1="917.68" y1="1238.20" x2="917.68" y2="1231.40" stroke-width="1.5"/>
<line x1="935.20" y1="1238.20" x2="935.20" y2="1231.40" stroke-width="1.5"/>
<line x1="952.73" y1="1238.20" x2="952.73" y2="1225.80" stroke-width="1.5"/>
<text transform="translate(952.73 1263.70) scale(0.945 1)" text-anchor="middle" font-size="21">15</text>
<line x1="970.25" y1="1238.20" x2="970.25" y2="1231.40" stroke-width="1.5"/>
<line x1="987.78" y1="1238.20" x2="987.78" y2="1231.40" stroke-width="1.5"/>
<line x1="1005.31" y1="1238.20" x2="1005.31" y2="1231.40" stroke-width="1.5"/>
<line x1="1022.83" y1="1238.20" x2="1022.83" y2="1231.40" stroke-width="1.5"/>
<line x1="1040.36" y1="1238.20" x2="1040.36" y2="1225.80" stroke-width="1.5"/>
<text transform="translate(1040.36 1263.70) scale(0.945 1)" text-anchor="middle" font-size="21">20</text>
<line x1="1057.88" y1="1238.20" x2="1057.88" y2="1231.40" stroke-width="1.5"/>
<line x1="1075.41" y1="1238.20" x2="1075.41" y2="1231.40" stroke-width="1.5"/>
<line x1="1092.93" y1="1238.20" x2="1092.93" y2="1231.40" stroke-width="1.5"/>
<line x1="1110.46" y1="1238.20" x2="1110.46" y2="1231.40" stroke-width="1.5"/>
<line x1="1127.99" y1="1238.20" x2="1127.99" y2="1225.80" stroke-width="1.5"/>
<text transform="translate(1127.99 1263.70) scale(0.945 1)" text-anchor="middle" font-size="21">25</text>
<line x1="1145.51" y1="1238.20" x2="1145.51" y2="1231.40" stroke-width="1.5"/>
<line x1="1163.04" y1="1238.20" x2="1163.04" y2="1231.40" stroke-width="1.5"/>
<line x1="1180.56" y1="1238.20" x2="1180.56" y2="1231.40" stroke-width="1.5"/>
<line x1="1198.09" y1="1238.20" x2="1198.09" y2="1231.40" stroke-width="1.5"/>
<line x1="1215.61" y1="1238.20" x2="1215.61" y2="1225.80" stroke-width="1.5"/>
<text transform="translate(1215.61 1263.70) scale(0.945 1)" text-anchor="middle" font-size="21">30</text>
<line x1="1233.14" y1="1238.20" x2="1233.14" y2="1231.40" stroke-width="1.5"/>
<line x1="1250.67" y1="1238.20" x2="1250.67" y2="1231.40" stroke-width="1.5"/>
<line x1="1268.19" y1="1238.20" x2="1268.19" y2="1231.40" stroke-width="1.5"/>
<line x1="1285.72" y1="1238.20" x2="1285.72" y2="1231.40" stroke-width="1.5"/>
<line x1="1303.24" y1="1238.20" x2="1303.24" y2="1225.80" stroke-width="1.5"/>
<text transform="translate(1303.24 1263.70) scale(0.945 1)" text-anchor="middle" font-size="21">35</text>
<line x1="1320.77" y1="1238.20" x2="1320.77" y2="1231.40" stroke-width="1.5"/>
<line x1="1338.29" y1="1238.20" x2="1338.29" y2="1231.40" stroke-width="1.5"/>
<line x1="1355.82" y1="1238.20" x2="1355.82" y2="1231.40" stroke-width="1.5"/>
<line x1="1373.35" y1="1238.20" x2="1373.35" y2="1231.40" stroke-width="1.5"/>
<line x1="1390.87" y1="1238.20" x2="1390.87" y2="1225.80" stroke-width="1.5"/>
<text transform="translate(1390.87 1263.70) scale(0.945 1)" text-anchor="middle" font-size="21">40</text>
<line x1="1408.40" y1="1238.20" x2="1408.40" y2="1231.40" stroke-width="1.5"/>
<line x1="1425.92" y1="1238.20" x2="1425.92" y2="1231.40" stroke-width="1.5"/>
<line x1="1443.45" y1="1238.20" x2="1443.45" y2="1231.40" stroke-width="1.5"/>
<line x1="1460.97" y1="1238.20" x2="1460.97" y2="1231.40" stroke-width="1.5"/>
<line x1="1478.50" y1="1238.20" x2="1478.50" y2="1225.80" stroke-width="1.5"/>
<text transform="translate(1478.50 1263.70) scale(0.945 1)" text-anchor="middle" font-size="21">45</text>
<path d="M871.30 1359.25V1666.60H1485.25" fill="none" stroke-width="1.5"/>
<text transform="translate(861.00 1675.60) scale(0.945 1)" text-anchor="end" font-size="21">0</text>
<line x1="871.30" y1="1654.34" x2="878.90" y2="1654.34" stroke-width="1.5"/>
<line x1="871.30" y1="1642.07" x2="878.90" y2="1642.07" stroke-width="1.5"/>
<line x1="871.30" y1="1629.81" x2="878.90" y2="1629.81" stroke-width="1.5"/>
<line x1="871.30" y1="1617.54" x2="878.90" y2="1617.54" stroke-width="1.5"/>
<line x1="871.30" y1="1605.28" x2="883.60" y2="1605.28" stroke-width="1.5"/>
<text transform="translate(861.00 1614.28) scale(0.945 1)" text-anchor="end" font-size="21">0.01</text>
<line x1="871.30" y1="1593.02" x2="878.90" y2="1593.02" stroke-width="1.5"/>
<line x1="871.30" y1="1580.75" x2="878.90" y2="1580.75" stroke-width="1.5"/>
<line x1="871.30" y1="1568.49" x2="878.90" y2="1568.49" stroke-width="1.5"/>
<line x1="871.30" y1="1556.22" x2="878.90" y2="1556.22" stroke-width="1.5"/>
<line x1="871.30" y1="1543.96" x2="883.60" y2="1543.96" stroke-width="1.5"/>
<text transform="translate(861.00 1552.96) scale(0.945 1)" text-anchor="end" font-size="21">0.02</text>
<line x1="871.30" y1="1531.70" x2="878.90" y2="1531.70" stroke-width="1.5"/>
<line x1="871.30" y1="1519.43" x2="878.90" y2="1519.43" stroke-width="1.5"/>
<line x1="871.30" y1="1507.17" x2="878.90" y2="1507.17" stroke-width="1.5"/>
<line x1="871.30" y1="1494.90" x2="878.90" y2="1494.90" stroke-width="1.5"/>
<line x1="871.30" y1="1482.64" x2="883.60" y2="1482.64" stroke-width="1.5"/>
<text transform="translate(861.00 1491.64) scale(0.945 1)" text-anchor="end" font-size="21">0.03</text>
<line x1="871.30" y1="1470.38" x2="878.90" y2="1470.38" stroke-width="1.5"/>
<line x1="871.30" y1="1458.11" x2="878.90" y2="1458.11" stroke-width="1.5"/>
<line x1="871.30" y1="1445.85" x2="878.90" y2="1445.85" stroke-width="1.5"/>
<line x1="871.30" y1="1433.58" x2="878.90" y2="1433.58" stroke-width="1.5"/>
<line x1="871.30" y1="1421.32" x2="883.60" y2="1421.32" stroke-width="1.5"/>
<text transform="translate(861.00 1430.32) scale(0.945 1)" text-anchor="end" font-size="21">0.04</text>
<line x1="871.30" y1="1409.06" x2="878.90" y2="1409.06" stroke-width="1.5"/>
<line x1="871.30" y1="1396.79" x2="878.90" y2="1396.79" stroke-width="1.5"/>
<line x1="871.30" y1="1384.53" x2="878.90" y2="1384.53" stroke-width="1.5"/>
<line x1="871.30" y1="1372.26" x2="878.90" y2="1372.26" stroke-width="1.5"/>
<line x1="871.30" y1="1360.00" x2="883.60" y2="1360.00" stroke-width="1.5"/>
<text transform="translate(861.00 1369.00) scale(0.945 1)" text-anchor="end" font-size="21">0.05</text>
<text transform="translate(871.30 1691.70) scale(0.945 1)" text-anchor="middle" font-size="21">10</text>
<line x1="888.82" y1="1666.60" x2="888.82" y2="1659.80" stroke-width="1.5"/>
<line x1="906.34" y1="1666.60" x2="906.34" y2="1659.80" stroke-width="1.5"/>
<line x1="923.86" y1="1666.60" x2="923.86" y2="1659.80" stroke-width="1.5"/>
<line x1="941.38" y1="1666.60" x2="941.38" y2="1659.80" stroke-width="1.5"/>
<line x1="958.90" y1="1666.60" x2="958.90" y2="1654.20" stroke-width="1.5"/>
<text transform="translate(958.90 1691.70) scale(0.945 1)" text-anchor="middle" font-size="21">15</text>
<line x1="976.42" y1="1666.60" x2="976.42" y2="1659.80" stroke-width="1.5"/>
<line x1="993.94" y1="1666.60" x2="993.94" y2="1659.80" stroke-width="1.5"/>
<line x1="1011.46" y1="1666.60" x2="1011.46" y2="1659.80" stroke-width="1.5"/>
<line x1="1028.98" y1="1666.60" x2="1028.98" y2="1659.80" stroke-width="1.5"/>
<line x1="1046.50" y1="1666.60" x2="1046.50" y2="1654.20" stroke-width="1.5"/>
<text transform="translate(1046.50 1691.70) scale(0.945 1)" text-anchor="middle" font-size="21">20</text>
<line x1="1064.02" y1="1666.60" x2="1064.02" y2="1659.80" stroke-width="1.5"/>
<line x1="1081.54" y1="1666.60" x2="1081.54" y2="1659.80" stroke-width="1.5"/>
<line x1="1099.06" y1="1666.60" x2="1099.06" y2="1659.80" stroke-width="1.5"/>
<line x1="1116.58" y1="1666.60" x2="1116.58" y2="1659.80" stroke-width="1.5"/>
<line x1="1134.10" y1="1666.60" x2="1134.10" y2="1654.20" stroke-width="1.5"/>
<text transform="translate(1134.10 1691.70) scale(0.945 1)" text-anchor="middle" font-size="21">25</text>
<line x1="1151.62" y1="1666.60" x2="1151.62" y2="1659.80" stroke-width="1.5"/>
<line x1="1169.14" y1="1666.60" x2="1169.14" y2="1659.80" stroke-width="1.5"/>
<line x1="1186.66" y1="1666.60" x2="1186.66" y2="1659.80" stroke-width="1.5"/>
<line x1="1204.18" y1="1666.60" x2="1204.18" y2="1659.80" stroke-width="1.5"/>
<line x1="1221.70" y1="1666.60" x2="1221.70" y2="1654.20" stroke-width="1.5"/>
<text transform="translate(1221.70 1691.70) scale(0.945 1)" text-anchor="middle" font-size="21">30</text>
<line x1="1239.22" y1="1666.60" x2="1239.22" y2="1659.80" stroke-width="1.5"/>
<line x1="1256.74" y1="1666.60" x2="1256.74" y2="1659.80" stroke-width="1.5"/>
<line x1="1274.26" y1="1666.60" x2="1274.26" y2="1659.80" stroke-width="1.5"/>
<line x1="1291.78" y1="1666.60" x2="1291.78" y2="1659.80" stroke-width="1.5"/>
<line x1="1309.30" y1="1666.60" x2="1309.30" y2="1654.20" stroke-width="1.5"/>
<text transform="translate(1309.30 1691.70) scale(0.945 1)" text-anchor="middle" font-size="21">35</text>
<line x1="1326.82" y1="1666.60" x2="1326.82" y2="1659.80" stroke-width="1.5"/>
<line x1="1344.34" y1="1666.60" x2="1344.34" y2="1659.80" stroke-width="1.5"/>
<line x1="1361.86" y1="1666.60" x2="1361.86" y2="1659.80" stroke-width="1.5"/>
<line x1="1379.38" y1="1666.60" x2="1379.38" y2="1659.80" stroke-width="1.5"/>
<line x1="1396.90" y1="1666.60" x2="1396.90" y2="1654.20" stroke-width="1.5"/>
<text transform="translate(1396.90 1691.70) scale(0.945 1)" text-anchor="middle" font-size="21">40</text>
<line x1="1414.42" y1="1666.60" x2="1414.42" y2="1659.80" stroke-width="1.5"/>
<line x1="1431.94" y1="1666.60" x2="1431.94" y2="1659.80" stroke-width="1.5"/>
<line x1="1449.46" y1="1666.60" x2="1449.46" y2="1659.80" stroke-width="1.5"/>
<line x1="1466.98" y1="1666.60" x2="1466.98" y2="1659.80" stroke-width="1.5"/>
<line x1="1484.50" y1="1666.60" x2="1484.50" y2="1654.20" stroke-width="1.5"/>
<text transform="translate(1484.50 1691.70) scale(0.945 1)" text-anchor="middle" font-size="21">45</text>
<line x1="275.6" y1="9.3" x2="275.6" y2="36" stroke-width="3" stroke-linecap="round"/>
<path d="M267.6 33.6H283.6L275.6 57.5Z" fill="#000" stroke="none"/>
<line x1="349.3" y1="9.3" x2="349.3" y2="36" stroke-width="3" stroke-linecap="round"/>
<path d="M341.3 33.6H357.3L349.3 57.5Z" fill="#000" stroke="none"/>
<line x1="936.6" y1="9.3" x2="936.6" y2="36" stroke-width="3" stroke-linecap="round"/>
<path d="M928.6 33.6H944.6L936.6 57.5Z" fill="#000" stroke="none"/>
<line x1="1132.4" y1="9.3" x2="1132.4" y2="36" stroke-width="3" stroke-linecap="round"/>
<path d="M1124.4 33.6H1140.4L1132.4 57.5Z" fill="#000" stroke="none"/>
<line x1="1426.1" y1="9.3" x2="1426.1" y2="36" stroke-width="3" stroke-linecap="round"/>
<path d="M1418.1 33.6H1434.1L1426.1 57.5Z" fill="#000" stroke="none"/>
<text transform="translate(8.80 119.00) scale(0.955 1)" text-anchor="start" font-size="59.7">A</text>
<text transform="translate(8.80 559.60) scale(0.983 1)" text-anchor="start" font-size="58.0">B</text>
<text transform="translate(8.80 976.40) scale(0.993 1)" text-anchor="start" font-size="59.7">C</text>
<text transform="translate(8.80 1416.40) scale(0.981 1)" text-anchor="start" font-size="58.6">D</text>
<text transform="translate(793.10 1778.90) scale(1.006 1)" text-anchor="middle" font-size="57.3">Retention Time (min)</text>
<path d="M190.8 381.5L191.8 376.2L192.5 352.8H193.8V352.5H195.0V352.8L195.0 359.2L196.1 345.4H197.6V341.5L197.8 326.9V329.8H199.3L199.7 340.1V340.4H201.8H203.1V345.4v-1.6v2.8V345.4L203.5 361.3H205.2V365.9v-1.6v3.2V365.9H206.5V369.4v-1.2v2.8V369.4H207.8V368.8V367.8H209.4H210.9V366.6v-1.6v1.6V366.6V366.3H212.5v-1.2v2.8V366.3V367.7H214.1H216.2V371.9v-2.5v3.3V371.9H217.8V372.4v-1.6v2.8V372.4V373.0H219.4H221.0V374.0v-1.2v2.8V374.0V375.1H222.6v-1.2v2.0V375.1H224.2V375.5V376.2H225.8H227.4V375.5v-1.2v2.8V375.5V376.2H229.0L230.0 358.1H232.2V356.3L233.2 344.4L235.3 352.8L236.4 345.4H238.5V343.3v-1.2v2.0V343.3L239.2 337.6H241.3V339.3v-1.2v2.0V339.3L242.1 346.5V352.1H243.8v-2.5v3.7V352.1V360.0H245.5v-1.2v2.0V360.0H247.0V365.3v-2.5v4.1V365.3H248.6V366.3v-2.5v4.1V366.3V367.7H250.2v-1.6v2.8V367.7V370.6H252.3V369.4H253.9H255.5V370.9v-2.5v3.7V370.9H257.1V370.9H258.7V374.1v-2.5v4.1V374.1H260.3V374.0H261.9V373.0v-2v3.6V373.0L263.4 360.3H265.5V362.1v-2v2V362.1L266.8 366.6V369.4H268.0v-2.5v4.1V369.4H269.3V371.9L270.6 366.6L270.6 343.3L272.5 328.4L272.7 255.2L274.6 229.8L274.0 155.5V155.2H275.2H276.5V155.5L275.7 193.7L277.8 214.9L277.8 272.2L279.5 288.1L281.0 266.9L281.0 221.3L282.7 199.0L284.2 211.7L284.2 266.9L286.3 279.6L286.3 315.7H288.4V323.4L288.4 345.4V348.6H290.5L291.6 361.3H293.7V367.7v-2v2V367.7H295.3V369.4V369.8H296.9v-2.5v3.3V369.8H299.0V370.9v-2v2.8V370.9V373.0H301.1V370.9H302.9v-1.6v1.6V370.9V374.0H304.7v-2.5v4.1V374.0V371.9H306.4v-1.6v3.2V371.9L308.6 361.3L309.6 355.0V355.6H310.9V356.0H312.2L313.4 361.3H314.7V364.8V367.7H316.0H317.6V369.4V370.9H319.2H320.8V369.4v-2v2.8V369.4H322.3V366.6v-1.2v1.2V366.6H323.9V367.8V368.8H325.5H327.1V369.4v-2v3.6V369.4H328.7V370.9v-1.2v2.0V370.9H330.8V369.4H333.0V366.6v-1.2v1.2V366.6H334.5V367.8V368.8H336.1V370.9H337.7v-1.6v1.6V370.9V373.0H339.3v-2v3.2V373.0H340.6V372.4v-1.2v2.4V372.4H341.9V368.8v-2v2V368.8L341.9 335.9L344.0 314.6L344.0 225.5L345.7 181.0L346.1 204.3L347.8 227.6L347.8 299.8L349.5 318.9L349.5 353.9V359.2H351.6v-2v3.6V359.2L351.6 365.6L352.5 347.5L354.2 331.6L353.8 234.0L356.3 195.8L355.9 97.1L358.0 114.1L358.0 195.8L359.7 257.3L359.7 331.6L361.4 343.3L361.4 362.4V366.3H363.7V366.3H365.5v-1.6v2.4000000000000004V366.3V367.8H367.3v-1.2v1.2V367.8H369.0V369.8H371.2V369.4V366.6H373.3V364.8H375.4H377.5V364.5V367.8H379.6v-1.2v2.8V367.8V369.8H381.8V369.4H383.4V367.7H384.9L385.6 356.0H387.1V355.0L387.1 328.4L388.1 311.5V313.6H390.3v-1.2v2.4V313.6L391.3 325.3L393.4 335.9V340.4H395.6v-1.2v2.4V340.4L396.6 350.7L397.7 365.6V368.0H399.8H401.4V367.8v-1.6v3.2V367.8V367.7H403.0v-2v3.6V367.7V364.2H405.1v-1.2v1.2V364.2H407.2V365.6V360.2H408.8H410.4V359.2L411.0 349.7H412.5V344.4v-1.2v2.0V344.4V347.5H414.7L416.1 356.0V360.2H417.5v-1.2v2.8V360.2H418.9V365.6V369.4H420.5v-1.6v3.2V369.4V373.0H422.1v-2v3.2V373.0H424.2V372.4H426.3V370.9v-2.5v4.1V370.9L428.4 359.2V360.2H430.0v-2.5v2.5V360.2H431.6V360.3H433.8V365.6v-1.6v2.4000000000000004V365.6H435.9V361.6v-1.2v2.0V361.6V364.8H437.3v-2v2.8V364.8H438.6V366.6H440.1V370.9V370.9H441.7H443.4V372.4V371.5H445.0H449.2v-1.5v1.5V371.5H453.3V368.5H455.5v-1.6v1.6V368.5H457.1V367.8v-1.2v1.2V367.8H458.6V368.8v-1.2v2.0V368.8H460.8V370.7H464.7H468.5v-2.5v3.5V371.5H472.4V372.4H474.0V371.9H475.6H477.5V372.4V374.0H479.3v-1.2v2.8V374.0H481.2V372.4v-2v3.2V372.4V372.4H483.1v-2.5v2.5V372.4H484.6V374.0H486.2V374.5H490.1H494.0H497.9v-1.5v1.5V374.5V373.0H500.0v-2v3.6V373.0H501.8V374.0V374.0H503.6v-2.5v2.5V374.0V374.5H505.3H507.5V374.0v-1.6v1.6V374.0H509.6V372.4V374.1H511.7v-1.6v2.8V374.1V373.1H513.8H515.6V374.0V372.4H517.4v-1.6v2.8V372.4H519.1V371.9H521.2V369.4V369.4H523.4H525.5V370.2H527.1V370.9v-1.6v3.2V370.9H528.7V373.0v-2.5v4.1V373.0H530.3V370.9V368.8H531.9V367.8H533.4H535.0V368.1v-1.6v2.8V368.1V367.8H537.2v-1.2v2.0V367.8V370.9H539.3V373.0H541.4v-1.2v1.2V373.0H546.2H551.0V366.6H552.7v-1.2v2.4V366.6L553.5 360.3V358.1H555.2v-2v2.8V358.1V360.3H557.3v-1.6v2.4000000000000004V360.3L558.4 366.6V368.8H560.5v-1.6v1.6V368.8L561.6 376.2V377.0H563.7v-2.5v3.7V377.0V376.6H565.8v-1.6v2.4000000000000004V376.6V377.0H567.6v-2v2V377.0H569.3V375.5H571.1V376.2V375.5H572.7H574.3V374.1v-1.6v2.4000000000000004V374.1H575.9V372.4V371.5H577.5H579.6V374.0H581.7V372.4v-2.5v4.1V372.4H583.8V372.4v-2v2.8V372.4H586.0V372.4v-1.2v1.2V372.4V372.4H587.6H589.2V371.5H590.7V372.4H592.3V374.1v-2.5v2.5V374.1H596.8H601.4H605.9H610.4H612.5V371.9V374.0H614.6V373.6H616.7H618.9V371.6L619.5 350.7L621.0 335.9L621.0 234.0L622.7 204.3L622.7 150.2H624.0V149.0v-2v3.2V149.0H625.2V146.6L624.8 166.1L626.3 184.1L626.3 236.1L628.4 254.2L628.4 298.7L630.5 310.4L630.5 340.1L632.0 346.0L632.0 362.4H634.1V363.4v-1.2v2.4V363.4L634.8 369.8V370.9H636.9H639.0V373.0V374.0H640.6V374.5H642.2V374.0H644.3v-1.2v2.0V374.0H646.4V375.5v-1.6v2.8V375.5H648.6V375.1V375.5H650.2H651.8V377.2V377.0H653.3v-2.5v3.7V377.0V375.8H654.9H656.7V375.5V374.0H658.5v-2.5v3.7V374.0V374.1H660.2V371.5H662.4V374.0H664.5V371.9H666.6V372.4H668.7V373.6H670.8v-1.6v2.4000000000000004V373.6V374.0H672.6H674.4V375.5V376.2H676.2v-2.5v2.5V376.2H677.9V375.5H679.7V375.5v-2v2.8V375.5V374.5H681.5V375.5H683.1V376.6H684.6v-2v3.6V376.6H686.4V377.0H688.2V377.0H689.9V376.2V375.5H692.1V374.5H694.2V374.0H696.0V374.0H697.9V375.5H699.8v-2v3.6V375.5V375.1H701.6v-1.2v2.0V375.1H703.7V376.6H708.5v-1.5v1.5V376.6H713.3H718.1H722.8H723.9V374.5v-1.6v2.8V374.5V377.0H725.5v-1.2v2.8V377.0H727.1V375.1v-2v3.6V375.1H728.7V375.5v-2v2.8V375.5V376.8H730.3H735.2H740.2H745.1" fill="none" stroke-width="1.45" stroke-linejoin="miter" stroke-miterlimit="2"/>
<path d="M190.8 381.5h2.7M191.8 376.2h2.7M192.5 352.8h2.7M195.0 352.8h2.7M195.0 359.2h2.7M196.1 345.4h2.7M197.6 341.5h2.7M197.8 326.9h2.7M199.3 329.8h2.7M199.7 340.1h2.7M203.1 345.4h2.7M203.5 361.3h2.7M205.2 365.9h2.7M206.5 369.4h2.7M207.8 368.8h2.7M209.4 367.8h2.7M210.9 366.6h2.7M212.5 366.3h2.7M214.1 367.7h2.7M216.2 371.9h2.7M217.8 372.4h2.7M219.4 373.0h2.7M224.2 375.5h2.7M225.8 376.2h2.7M227.4 375.5h2.7M229.0 376.2h2.7M230.0 358.1h2.7M232.2 356.3h2.7M233.2 344.4h2.7M235.3 352.8h2.7M238.5 343.3h2.7M239.2 337.6h2.7M241.3 339.3h2.7M242.1 346.5h2.7M243.8 352.1h2.7M245.5 360.0h2.7M247.0 365.3h2.7M248.6 366.3h2.7M250.2 367.7h2.7M252.3 370.6h2.7M253.9 369.4h2.7M255.5 370.9h2.7M258.7 374.1h2.7M260.3 374.0h2.7M261.9 373.0h2.7M265.5 362.1h2.7M266.8 366.6h2.7M268.0 369.4h2.7M269.3 371.9h2.7M270.6 366.6h2.7M270.6 343.3h2.7M272.5 328.4h2.7M272.7 255.2h2.7M274.6 229.8h2.7M274.0 155.5h2.7M275.2 155.2h2.7M276.5 155.5h2.7M277.8 214.9h2.7M277.8 272.2h2.7M279.5 288.1h2.7M281.0 221.3h2.7M282.7 199.0h2.7M284.2 211.7h2.7M284.2 266.9h2.7M286.3 279.6h2.7M286.3 315.7h2.7M288.4 323.4h2.7M288.4 345.4h2.7M290.5 348.6h2.7M291.6 361.3h2.7M293.7 367.7h2.7M295.3 369.4h2.7M296.9 369.8h2.7M299.0 370.9h2.7M301.1 373.0h2.7M302.9 370.9h2.7M304.7 374.0h2.7M306.4 371.9h2.7M308.6 361.3h2.7M309.6 355.0h2.7M312.2 356.0h2.7M313.4 361.3h2.7M314.7 364.8h2.7M316.0 367.7h2.7M317.6 369.4h2.7M319.2 370.9h2.7M320.8 369.4h2.7M325.5 368.8h2.7M327.1 369.4h2.7M328.7 370.9h2.7M330.8 369.4h2.7M333.0 366.6h2.7M336.1 368.8h2.7M337.7 370.9h2.7M339.3 373.0h2.7M341.9 368.8h2.7M344.0 314.6h2.7M344.0 225.5h2.7M345.7 181.0h2.7M346.1 204.3h2.7M347.8 227.6h2.7M347.8 299.8h2.7M349.5 318.9h2.7M349.5 353.9h2.7M351.6 359.2h2.7M351.6 365.6h2.7M352.5 347.5h2.7M354.2 331.6h2.7M353.8 234.0h2.7M356.3 195.8h2.7M355.9 97.1h2.7M358.0 114.1h2.7M358.0 195.8h2.7M359.7 331.6h2.7M361.4 343.3h2.7M361.4 362.4h2.7M363.7 366.3h2.7M369.0 369.8h2.7M371.2 369.4h2.7M373.3 366.6h2.7M375.4 364.8h2.7M377.5 364.5h2.7M379.6 367.8h2.7M381.8 369.8h2.7M383.4 369.4h2.7M384.9 367.7h2.7M385.6 356.0h2.7M387.1 355.0h2.7M387.1 328.4h2.7M388.1 311.5h2.7M390.3 313.6h2.7M391.3 325.3h2.7M393.4 335.9h2.7M395.6 340.4h2.7M396.6 350.7h2.7M397.7 365.6h2.7M399.8 368.0h2.7M401.4 367.8h2.7M403.0 367.7h2.7M405.1 364.2h2.7M407.2 365.6h2.7M408.8 360.2h2.7M410.4 359.2h2.7M411.0 349.7h2.7M412.5 344.4h2.7M414.7 347.5h2.7M416.1 356.0h2.7M417.5 360.2h2.7M418.9 365.6h2.7M420.5 369.4h2.7M422.1 373.0h2.7M424.2 372.4h2.7M426.3 370.9h2.7M428.4 359.2h2.7M430.0 360.2h2.7M431.6 360.3h2.7M433.8 365.6h2.7M435.9 361.6h2.7M437.3 364.8h2.7M438.6 366.6h2.7M440.1 370.9h2.7M441.7 370.9h2.7M443.4 372.4h2.7M445.0 371.5h2.7M455.5 368.5h2.7M457.1 367.8h2.7M458.6 368.8h2.7M460.8 370.7h2.7M468.5 371.5h2.7M474.0 372.4h2.7M475.6 371.9h2.7M477.5 372.4h2.7M479.3 374.0h2.7M484.6 374.0h2.7M486.2 374.5h2.7M500.0 373.0h2.7M501.8 374.0h2.7M503.6 374.0h2.7M507.5 374.0h2.7M509.6 372.4h2.7M511.7 374.1h2.7M513.8 373.1h2.7M515.6 374.0h2.7M517.4 372.4h2.7M519.1 371.9h2.7M521.2 369.4h2.7M523.4 369.4h2.7M525.5 370.2h2.7M527.1 370.9h2.7M528.7 373.0h2.7M531.9 368.8h2.7M533.4 367.8h2.7M535.0 368.1h2.7M539.3 370.9h2.7M551.0 373.0h2.7M552.7 366.6h2.7M553.5 360.3h2.7M555.2 358.1h2.7M557.3 360.3h2.7M560.5 368.8h2.7M561.6 376.2h2.7M563.7 377.0h2.7M565.8 376.6h2.7M567.6 377.0h2.7M569.3 375.5h2.7M571.1 376.2h2.7M572.7 375.5h2.7M574.3 374.1h2.7M575.9 372.4h2.7M577.5 371.5h2.7M579.6 374.0h2.7M581.7 372.4h2.7M583.8 372.4h2.7M586.0 372.4h2.7M587.6 372.4h2.7M589.2 371.5h2.7M590.7 372.4h2.7M592.3 374.1h2.7M610.4 374.1h2.7M612.5 371.9h2.7M614.6 374.0h2.7M616.7 373.6h2.7M618.9 371.6h2.7M619.5 350.7h2.7M621.0 335.9h2.7M621.0 234.0h2.7M622.7 204.3h2.7M622.7 150.2h2.7M624.0 149.0h2.7M625.2 146.6h2.7M624.8 166.1h2.7M626.3 184.1h2.7M626.3 236.1h2.7M628.4 254.2h2.7M628.4 298.7h2.7M630.5 310.4h2.7M630.5 340.1h2.7M632.0 346.0h2.7M632.0 362.4h2.7M634.1 363.4h2.7M634.8 369.8h2.7M636.9 370.9h2.7M639.0 373.0h2.7M640.6 374.0h2.7M642.2 374.5h2.7M644.3 374.0h2.7M646.4 375.5h2.7M648.6 375.1h2.7M650.2 375.5h2.7M651.8 377.2h2.7M653.3 377.0h2.7M654.9 375.8h2.7M656.7 375.5h2.7M658.5 374.0h2.7M660.2 374.1h2.7M662.4 371.5h2.7M664.5 374.0h2.7M668.7 372.4h2.7M670.8 373.6h2.7M674.4 375.5h2.7M676.2 376.2h2.7M677.9 375.5h2.7M679.7 375.5h2.7M681.5 374.5h2.7M683.1 375.5h2.7M686.4 377.0h2.7M689.9 376.2h2.7M692.1 375.5h2.7M696.0 374.0h2.7M699.8 375.5h2.7M701.6 375.1h2.7M703.7 376.6h2.7M713.3 376.6h2.7M723.9 374.5h2.7M725.5 377.0h2.7M727.1 375.1h2.7M728.7 375.5h2.7" fill="none" stroke-width="1.3"/>
<path d="M871.4 351.8H873.5V352.8v-1.2v2.8V352.8L874.5 360.3H876.1V362.2H877.7V363.4v-1.2v2.8V363.4H879.9V363.7V363.7H882.0v-2.5v3.7V363.7V364.5H884.1v-1.2v2.0V364.5H886.2V359.2v-2v2V359.2V359.2H888.0V359.2H889.8V360.3H891.5v-1.2v2.0V360.3H893.6V365.3V365.3H895.2v-1.6v3.2V365.3H896.8V367.3v-2.5v4.1V367.3V366.8H898.4v-1.2v2.4V366.8V364.5H900.0V366.8H901.6H903.2V367.7V366.8H904.8H906.4V366.6v-1.6v2.8V366.6L907.0 354.5V356.1H908.3v-2v3.2V356.1V354.5H909.6L910.0 363.4V363.7H911.4V365.6H912.7v-1.2v2.8V365.6V366.8H914.9v-2v2.8V366.8V367.7H917.0v-2.5v4.1V367.7H918.6V368.3v-1.2v2.8V368.3H920.2V369.8H922.3V368.3v-1.6v1.6V368.3V366.6H924.4V366.8H925.7H927.0V367.7L927.6 339.7H929.7V340.4v-2v2.8V340.4L929.7 365.6V366.8H931.3v-1.6v3.2V366.8H932.9V367.7H934.5V368.3v-2v3.2V368.3H936.1V370.2V370.6H937.6L937.6 266.9L939.3 253.1L939.3 208.1L939.3 293.4L941.4 303.6L941.4 355.0V356.1H943.0v-1.2v2.8V356.1H944.6V356.0v-2.5v4.1V356.0V358.4H946.7L946.7 368.8V369.9H948.3v-1.2v1.2V369.9H949.9V370.9v-1.6v3.2V370.9H951.5V372.9V373.6H953.1v-2v3.2V373.6H954.8V371.4V372.9H956.6v-2.5v3.7V372.9H958.4V373.0v-1.2v2.0V373.0V371.4H960.0H961.6V370.9v-2v3.2V370.9H963.1V369.9V371.9H964.7H966.3V372.9v-2v3.6V372.9V373.0H967.9V369.9H969.5V368.8H971.1v-1.2v2.4V368.8L971.7 359.6L972.2 367.7V368.8H973.6v-2.5v3.7V368.8L973.6 376.2V376.0H975.7V374.5H977.7v-1.2v2.0V374.5V376.0H979.7H981.7V376.6v-2.5v4.1V376.6V376.0H983.3V374.1H984.9H986.5V376.0v-1.6v2.4000000000000004V376.0H988.1V376.6H993.4H998.7v-2v2V376.6H1000.3V376.0v-2v2V376.0H1001.9V375.1V376.0H1003.5V377.2H1005.1H1006.9V377.5V377.5H1008.7v-2.5v3.3V377.5H1010.5V379.0v-2.5v2.5V379.0H1012.3V377.5v-2v2.8V377.5V377.5H1014.1V377.5H1016.0V377.7H1017.8V377.5H1019.9V376.2H1022.0v-2.5v3.7V376.2H1024.2V377.5V378.3H1026.3v-1.6v3.2V378.3V376.0H1028.4V377.5H1030.5v-1.2v1.2V377.5H1032.6V377.5v-1.6v2.8V377.5V377.9H1034.8V376.0H1036.9V379.0H1039.0V378.3H1041.1H1042.9V377.5V377.5H1044.7V379.0H1046.4v-1.2v1.2V379.0V377.5H1048.2v-2.5v3.7V377.5H1050.0V377.5H1051.7V377.9v-2v2.8V377.9V374.5H1053.3v-2.5v2.5V374.5V374.1H1054.9v-2.5v2.5V374.1V370.7H1057.0V374.1H1059.2H1060.2V377.2H1065.0v-1.5v2.5V377.2H1069.8H1074.5H1079.3H1081.4V376.0v-1.6v3.2V376.0V378.3H1083.6v-1.2v2.8V378.3H1086.8H1089.9V376.0H1091.5v-1.6v2.8V376.0V377.2H1093.1v-2.5v3.3V377.2H1095.8v-1.5v1.5V377.2H1098.4v-1.5v2.5V377.2H1100.5V377.5H1102.7V374.1V374.5H1104.3V370.9H1105.8v-2.5v4.1V370.9H1108.0V368.6v-2.5v4.1V368.6V372.2H1110.1H1111.7V374.5v-2v2V374.5H1113.3V376.2V376.0H1115.4V374.5H1117.5v-1.2v2.0V374.5V375.8H1119.6V376.0H1121.2v-2.5v3.7V376.0V377.2H1122.8v-1.6v2.8V377.2H1126.8H1130.8H1134.8H1138.7V381.5H1140.9v-2.5v4.1V381.5H1143.0V377.2v-2v3.6V377.2L1143.6 319.9L1145.5 306.2L1145.5 187.3L1145.5 218.1L1147.2 232.3L1147.2 364.5H1149.4V365.6L1150.4 375.1V367.7H1152.5v-2v2V367.7V368.0H1154.7L1155.7 374.1V374.5H1157.3v-2v2V374.5H1158.9V373.0H1160.5V374.5H1162.1V376.2V376.0H1164.2v-1.2v2.0V376.0V377.5H1166.3H1168.4V376.6v-1.2v2.8V376.6V374.5H1170.0H1171.6V373.6V372.9H1173.2H1174.8V375.1V374.5H1176.9v-2v3.6V374.5V374.1H1179.1v-1.2v1.2V374.1V374.5H1181.0v-2.5v3.7V374.5H1183.0V374.5H1185.0V375.8v-2v2.8V375.8H1186.9V374.5H1188.7V377.5v-1.2v2.4V377.5V376.6H1190.6v-2.5v2.5V376.6V376.0H1192.2H1193.8V375.8v-1.2v1.2V375.8H1198.6H1203.3H1205.0V373.6v-2.5v3.3V373.6H1206.5V376.5v-1.2v1.2V376.5H1210.5H1214.5H1218.5H1222.4H1223.5V373.0V376.5H1225.6v-1.6v3.2V376.5V376.0H1227.4v-2v3.2V376.0V374.5H1229.2v-1.6v3.2V374.5H1230.9V375.1V372.9H1232.5H1234.1V371.9v-1.6v1.6V371.9V372.9H1235.7V375.1H1237.3H1241.8H1246.3H1250.8H1255.3L1256.0 363.4H1257.5V358.9v-1.6v3.2V358.9L1258.5 367.7H1260.6V368.8L1260.6 373.0H1265.2H1269.7H1274.3H1278.8H1283.3H1287.9v-2.5v2.5V373.0H1292.4H1296.9v-2.5v2.5V373.0H1301.5v-1.5v2.5V373.0H1306.0H1310.6H1315.1H1319.6H1324.2H1328.7H1333.3H1337.8H1342.3V370.1H1344.5v-1.2v2.4V370.1H1346.0V371.4v-1.6v3.2V371.4V374.1H1347.6v-2.5v3.7V374.1V371.4H1349.2v-1.2v2.4V371.4V371.9H1350.8H1355.4H1360.0H1364.6V369.5H1366.3v-2v2.8V369.5L1366.7 361.3H1368.1V360.7H1369.5V361.3v-2v2V361.3L1369.9 368.8V371.9H1371.0v-1.6v3.2V371.9H1375.2v-2.5v2.5V371.9H1379.5H1383.7V374.1H1384.8H1386.9V374.5V373.6H1389.0v-2.5v4.1V373.6V372.9H1390.6H1392.2V371.9v-2.5v3.7V371.9H1397.0H1401.7H1406.5H1411.2H1416.0v-2v2V371.9L1416.0 364.5H1417.7V360.6L1417.7 229.8H1419.4V226.3L1419.8 322.1V329.5H1421.9v-1.6v1.6V329.5L1421.9 364.5V367.7H1424.0v-2.5v3.3V367.7H1425.8V368.3v-2.5v3.7V368.3H1427.6V368.3v-2v3.2V368.3V368.1H1429.3H1430.4V369.5H1433.6H1436.8H1437.8V367.7H1442.3H1446.8H1451.4H1455.9H1456.9V365.4H1460.6H1464.4V364.5H1466.5V365.3H1468.2v-1.6v3.2V365.3H1470.0V365.3v-1.2v2.0V365.3H1471.8V365.6V370.2H1473.9v-1.2v2.8V370.2H1476.0V369.9V370.9H1478.1v-1.6v2.8V370.9H1479.7V371.4V371.9H1481.3v-2.5v2.5V371.9V369.9H1483.2v-2.5v4.1V369.9V371.5H1485.1" fill="none" stroke-width="1.45" stroke-linejoin="miter" stroke-miterlimit="2"/>
<path d="M871.4 351.8h2.7M873.5 352.8h2.7M874.5 360.3h2.7M876.1 362.2h2.7M877.7 363.4h2.7M879.9 363.7h2.7M882.0 363.7h2.7M884.1 364.5h2.7M886.2 359.2h2.7M888.0 359.2h2.7M889.8 359.2h2.7M891.5 360.3h2.7M893.6 365.3h2.7M895.2 365.3h2.7M896.8 367.3h2.7M898.4 366.8h2.7M900.0 364.5h2.7M901.6 366.8h2.7M906.4 366.6h2.7M908.3 356.1h2.7M909.6 354.5h2.7M910.0 363.4h2.7M911.4 363.7h2.7M912.7 365.6h2.7M917.0 367.7h2.7M918.6 368.3h2.7M920.2 369.8h2.7M922.3 368.3h2.7M924.4 366.6h2.7M925.7 366.8h2.7M927.0 367.7h2.7M927.6 339.7h2.7M929.7 340.4h2.7M931.3 366.8h2.7M934.5 368.3h2.7M936.1 370.2h2.7M937.6 370.6h2.7M939.3 253.1h2.7M939.3 208.1h2.7M939.3 293.4h2.7M941.4 303.6h2.7M941.4 355.0h2.7M943.0 356.1h2.7M944.6 356.0h2.7M946.7 358.4h2.7M946.7 368.8h2.7M948.3 369.9h2.7M949.9 370.9h2.7M951.5 372.9h2.7M953.1 373.6h2.7M954.8 371.4h2.7M956.6 372.9h2.7M958.4 373.0h2.7M960.0 371.4h2.7M961.6 370.9h2.7M963.1 369.9h2.7M964.7 371.9h2.7M966.3 372.9h2.7M967.9 373.0h2.7M971.1 368.8h2.7M971.7 359.6h2.7M972.2 367.7h2.7M973.6 368.8h2.7M973.6 376.2h2.7M975.7 376.0h2.7M977.7 374.5h2.7M979.7 376.0h2.7M981.7 376.6h2.7M984.9 374.1h2.7M986.5 376.0h2.7M988.1 376.6h2.7M1000.3 376.0h2.7M1001.9 375.1h2.7M1003.5 376.0h2.7M1005.1 377.2h2.7M1006.9 377.5h2.7M1008.7 377.5h2.7M1014.1 377.5h2.7M1016.0 377.5h2.7M1017.8 377.7h2.7M1019.9 377.5h2.7M1022.0 376.2h2.7M1024.2 377.5h2.7M1028.4 376.0h2.7M1030.5 377.5h2.7M1032.6 377.5h2.7M1034.8 377.9h2.7M1036.9 376.0h2.7M1039.0 379.0h2.7M1041.1 378.3h2.7M1042.9 377.5h2.7M1044.7 377.5h2.7M1046.4 379.0h2.7M1050.0 377.5h2.7M1051.7 377.9h2.7M1053.3 374.5h2.7M1054.9 374.1h2.7M1057.0 370.7h2.7M1059.2 374.1h2.7M1060.2 377.2h2.7M1081.4 376.0h2.7M1083.6 378.3h2.7M1093.1 377.2h2.7M1102.7 374.1h2.7M1104.3 374.5h2.7M1105.8 370.9h2.7M1108.0 368.6h2.7M1110.1 372.2h2.7M1111.7 374.5h2.7M1113.3 376.2h2.7M1115.4 376.0h2.7M1117.5 374.5h2.7M1119.6 375.8h2.7M1121.2 376.0h2.7M1122.8 377.2h2.7M1140.9 381.5h2.7M1143.0 377.2h2.7M1143.6 319.9h2.7M1145.5 306.2h2.7M1145.5 187.3h2.7M1145.5 218.1h2.7M1147.2 232.3h2.7M1147.2 364.5h2.7M1149.4 365.6h2.7M1150.4 375.1h2.7M1152.5 367.7h2.7M1154.7 368.0h2.7M1155.7 374.1h2.7M1157.3 374.5h2.7M1158.9 373.0h2.7M1160.5 374.5h2.7M1162.1 376.2h2.7M1164.2 376.0h2.7M1166.3 377.5h2.7M1168.4 376.6h2.7M1170.0 374.5h2.7M1171.6 373.6h2.7M1173.2 372.9h2.7M1174.8 375.1h2.7M1176.9 374.5h2.7M1179.1 374.1h2.7M1181.0 374.5h2.7M1185.0 375.8h2.7M1186.9 374.5h2.7M1190.6 376.6h2.7M1193.8 375.8h2.7M1205.0 373.6h2.7M1206.5 376.5h2.7M1223.5 373.0h2.7M1229.2 374.5h2.7M1230.9 375.1h2.7M1232.5 372.9h2.7M1234.1 371.9h2.7M1235.7 372.9h2.7M1237.3 375.1h2.7M1241.8 375.1h2.7M1255.3 375.1h2.7M1256.0 363.4h2.7M1257.5 358.9h2.7M1258.5 367.7h2.7M1260.6 368.8h2.7M1260.6 373.0h2.7M1274.3 373.0h2.7M1292.4 373.0h2.7M1301.5 373.0h2.7M1344.5 370.1h2.7M1346.0 371.4h2.7M1347.6 374.1h2.7M1349.2 371.4h2.7M1350.8 371.9h2.7M1366.3 369.5h2.7M1366.7 361.3h2.7M1368.1 360.7h2.7M1369.5 361.3h2.7M1369.9 368.8h2.7M1371.0 371.9h2.7M1383.7 371.9h2.7M1384.8 374.1h2.7M1386.9 374.5h2.7M1390.6 372.9h2.7M1392.2 371.9h2.7M1416.0 364.5h2.7M1417.7 360.6h2.7M1417.7 229.8h2.7M1419.4 226.3h2.7M1419.8 322.1h2.7M1421.9 364.5h2.7M1425.8 368.3h2.7M1429.3 368.1h2.7M1430.4 369.5h2.7M1433.6 370.2h2.7M1437.8 367.7h2.7M1456.9 365.4h2.7M1464.4 366.2h2.7M1466.5 364.5h2.7M1468.2 365.3h2.7M1470.0 365.3h2.7M1473.9 370.2h2.7M1476.0 369.9h2.7M1479.7 371.4h2.7M1481.3 371.9h2.7M1483.2 369.9h2.7M1485.1 371.5h2.7" fill="none" stroke-width="1.3"/>
<path d="M177.6 809.4H179.1V808.2V806.2H180.6H182.0V806.6H183.4V804.1L184.4 799.8H185.5V800.2v-2.5v2.5V800.2L185.9 786.0L187.6 779.0L187.2 721.3L189.3 684.2L189.3 501.7" fill="none" stroke-width="1.45" stroke-linejoin="miter" stroke-miterlimit="2"/>
<path d="M179.1 808.2h2.7M180.6 806.2h2.7M182.0 806.6h2.7M183.4 804.1h2.7M184.4 799.8h2.7M185.5 800.2h2.7M185.9 786.0h2.7M187.6 779.0h2.7M187.2 721.3h2.7M189.3 501.7h2.7" fill="none" stroke-width="1.3"/>
<path d="M204.6 503.2L204.6 566.4L206.3 588.7L206.1 635.4H208.2V643.2v-2v2.8V643.2L207.8 660.8V665.1H209.9v-2.5v3.3V665.1L209.9 683.1V690.5H212.0L211.6 717.1H213.7V723.1L213.7 726.6V728.6H215.0v-2.5v4.1V728.6V729.8H216.2v-2v3.6V729.8L216.7 741.5V742.8H218.4v-2v2.8V742.8L218.4 753.1H219.6V754.6v-1.6v3.2V754.6H220.9V755.3v-1.2v2.8V755.3L221.6 763.7V766.9H223.7v-2.5v3.7V766.9V766.9H225.3V765.9H226.9H228.1V763.8v-2.5v4.1V763.8H229.4V761.6v-2v2.8V761.6L230.0 733.0V724.8H232.2v-1.2v2.0V724.8L232.2 716.6L233.6 725.5L234.9 717.1H237.0V722.4v-1.6v3.2V722.4L238.5 729.8H240.6V733.0V738.0H242.8v-1.2v2.4V738.0H244.4V740.9v-1.6v3.2V740.9H246.0V741.5H247.5V743.9v-1.6v2.8V743.9V745.7H249.1H251.3V753.1V757.7H252.6v-2v2V757.7V758.4H254.0V759.2H255.3H256.6V762.7V766.9H258.2v-1.2v2.8V766.9V768.0H259.7v-2v2V768.0V773.3H261.9v-1.2v2.0V773.3V773.0H263.5H265.1V773.3v-2.5v4.1V773.3L265.5 754.2L267.2 744.6V748.9H269.3v-2v3.6V748.9L270.4 757.4V760.6H271.8L272.5 773.3H273.9V771.5V771.2H275.2v-2v2V771.2L275.7 759.5L276.1 738.3V734.8H277.8v-2.5v3.3V734.8L277.8 718.1V717.9H279.4v-2.5v3.7V717.9H281.0V718.8v-2.5v3.7V718.8L281.0 746.8H283.1V749.9L284.2 729.8L284.2 694.8V690.2H285.8L285.8 677.4H287.1V681.2H288.4V681.0v-2.5v3.7V681.0L288.8 694.8V698.0H290.5L290.9 716.0V717.4H292.6v-1.6v1.6V717.4L293.1 734.0L294.8 753.1L295.8 768.0H297.9V772.5V774.5H299.7V777.6H301.5H303.2V776.5V781.1H305.4v-1.2v2.0V781.1V777.6H307.0V775.4H308.6L309.6 763.7V755.5H311.7v-1.6v1.6V755.5H313.3V757.7V759.5H314.9V765.1H317.0v-1.2v2.8V765.1H319.2V771.2v-1.2v2.0V771.2V768.4H321.3H323.4V765.9H325.0V765.3v-1.6v1.6V765.3V765.9H326.6v-2v3.6V765.9L327.7 770.5H329.8V771.5v-1.2v2.8V771.5V771.2H331.9V773.6H334.0v-2v2.8V773.6V770.4H336.1V766.9H337.7V763.7H339.3v-2.5v3.3V763.7H340.9V765.3V765.9H342.5v-1.2v2.4V765.9V766.9H344.1V766.9H345.7L346.1 738.3L347.8 724.5L347.4 673.6L348.9 659.8L349.5 665.1L351.0 682.0L351.6 725.5L353.1 736.2L353.1 758.4V764.8H355.2L355.9 746.8L357.4 730.8L358.0 679.9L359.5 661.9L360.1 669.3L361.6 682.0L361.6 724.5L363.7 737.2L363.7 756.3H365.8V762.7v-2.5v2.5V762.7H367.4V763.8v-2.5v2.5V763.8H369.0V763.7v-1.6v3.2V763.7H370.6V763.8v-2.5v3.3V763.8H372.2V764.8v-1.2v2.8V764.8V763.8H373.8v-2.5v4.1V763.8V763.7H375.4v-2v3.6V763.7L376.5 754.2H378.1V751.6v-1.2v2.0V751.6V753.1H379.6H381.8V748.6H383.9V754.2v-2v3.6V754.2H385.5V753.1v-1.2v2.0V753.1H387.1V756.3L388.1 735.1V730.1H390.3v-2.5v3.7V730.1L390.3 711.8V705.7H391.9v-1.6v2.8V705.7V710.7H394.1v-1.6v1.6V710.7L394.9 718.1H397.0V719.2v-1.2v2.4V719.2L398.7 727.7L400.4 747.8L400.9 756.3V756.2H403.0v-2.5v3.3V756.2V754.2H405.1L406.2 747.8H407.8V747.0v-1.6v3.2V747.0V743.6H409.4L411.5 731.9L412.5 714.9L414.0 701.1V705.4H415.7L416.8 719.2L418.9 733.0H421.0V739.3v-2v3.2V739.3L422.1 749.9V750.0H423.7v-1.2v1.2V750.0H425.3V753.1V754.6H426.9v-1.6v1.6V754.6H428.4V752.1L429.5 740.4V738.3H431.0L431.0 724.5H432.7V721.0H434.4V724.8v-2.5v2.5V724.8L435.2 737.2V737.8H436.6v-1.2v2.0V737.8V739.3H438.0v-1.6v2.4000000000000004V739.3H439.6V742.4V742.5H441.2v-2.5v3.3V742.5L442.9 749.9V756.3H445.0v-1.6v3.2V756.3H449.2H453.3v-2.5v3.5V756.3H454.9V756.2v-1.6v1.6V756.2V755.3H456.5v-2.5v4.1V755.3V757.7H458.1v-2.5v3.7V757.7H459.7V759.5v-1.2v2.4V759.5H461.8V760.7v-2.5v2.5V760.7V762.7H464.0v-1.2v2.0V762.7V760.7H465.5H467.1V759.5H468.7V763.8H470.3V763.7v-1.6v1.6V763.7V765.9H472.4v-2.5v4.1V765.9H474.6V765.3v-2v3.2V765.3H476.7V765.3v-2.5v3.7V765.3V766.9H478.8H480.9V766.9v-2v2.8V766.9V769.0H483.1V769.9H485.2v-1.6v1.6V769.9V771.2H487.3V771.5H489.4H491.5V773.0v-2.5v3.3V773.0V771.5H493.7H495.8V771.8v-2v2V771.8V773.0H497.6v-2v3.6V773.0V774.5H499.3H501.1V773.0V773.0H502.9H504.6V771.5v-2.5v4.1V771.5V773.3H506.4H508.5V773.0v-2.5v3.7V773.0H510.6V774.5v-1.2v2.4V774.5V774.5H512.8V775.4H514.9V774.5H517.0V774.8H519.1v-2.5v3.3V774.8V774.5H520.9H522.7V773.0v-1.2v2.8V773.0V772.7H524.4V773.0H526.6v-2.5v2.5V773.0V773.3H528.7V774.5H530.3V776.0H531.9H534.0V773.0v-1.2v2.0V773.0H536.1V771.2H537.7V771.5v-2v3.6V771.5H539.3V771.8V776.2H541.4v-1.6v2.8V776.2H543.3V776.0v-2.5v3.7V776.0H545.1V774.5v-2.5v3.7V774.5V777.6H547.0H548.8V777.5V776.0H550.6V777.6H552.4H554.1V776.9V771.5H555.6v-1.2v2.0V771.5L557.3 764.8H559.0V761.6H561.1V765.9L562.6 773.3V778.6H564.7v-2.5v3.7V778.6H566.9V782.1v-1.6v1.6V782.1V782.2H568.8v-2.5v3.7V782.2H570.8V782.2v-2.5v3.7V782.2V782.2H572.8v-2v2.8V782.2H574.8V782.2v-1.2v2.4V782.2H576.7V783.7v-1.2v1.2V783.7H578.7V782.2v-1.2v1.2V782.2H580.7V782.4v-1.2v1.2V782.4H582.8V779.7V779.1H584.9V780.6H587.0v-2v3.6V780.6H589.2V780.3v-1.6v1.6V780.3H590.7V779.1v-1.6v1.6V779.1H592.3V779.0v-1.6v2.4000000000000004V779.0H594.5V782.5v-2v2V782.5V783.7H596.0V786.0H597.6v-2v3.6V786.0H602.6H607.5v-2v2V786.0H612.5V785.2H614.1v-2.5v4.1V785.2H615.7V784.5v-2.5v4.1V784.5H618.9H622.0H623.6V783.7v-2.5v3.3V783.7H625.2V782.8v-1.6v2.8V782.8L625.2 761.6L626.3 748.9L625.9 690.5L628.4 670.4L628.4 621.6H630.5V615.5v-2v2.8V615.5L630.5 627.9L632.0 640.2L632.0 694.8L634.1 709.6L634.1 742.5L635.8 750.6L635.8 770.1V772.2H638.0v-2.5v3.7V772.2L638.0 779.7H640.1V782.1V786.8H641.7v-1.6v2.8V786.8V787.1H643.3v-1.2v1.2V787.1H644.9V788.3v-2.5v4.1V788.3V788.1H646.4V789.8H648.6H650.7V788.3H652.8V788.8v-1.2v1.2V788.8V788.3H654.6V786.8H656.3H658.1V788.1V788.3H660.2v-1.2v2.0V788.3H662.4V785.0v-2.5v3.3V785.0H664.5V785.2H666.6V785.0H668.2V786.8H669.8V788.1H671.9V789.6H676.4H680.8H685.3H689.7H694.2H696.3V789.8v-1.2v2.0V789.8H698.4V789.2H700.6V789.8v-1.2v2.8V789.8V790.9H702.7v-1.6v2.4000000000000004V790.9H707.6H712.4H717.3H722.2H727.1V790.4H729.2V789.8H731.3H733.4V790.3V791.3H735.6v-1.2v2.4V791.3H737.3V791.3V789.8H739.1V791.8H740.9V791.3H743.0V793.0H745.1" fill="none" stroke-width="1.45" stroke-linejoin="miter" stroke-miterlimit="2"/>
<path d="M204.6 566.4h2.7M206.3 588.7h2.7M206.1 635.4h2.7M208.2 643.2h2.7M207.8 660.8h2.7M209.9 683.1h2.7M212.0 690.5h2.7M211.6 717.1h2.7M213.7 723.1h2.7M213.7 726.6h2.7M215.0 728.6h2.7M216.2 729.8h2.7M216.7 741.5h2.7M218.4 742.8h2.7M218.4 753.1h2.7M219.6 754.6h2.7M220.9 755.3h2.7M221.6 763.7h2.7M223.7 766.9h2.7M225.3 766.9h2.7M226.9 765.9h2.7M228.1 763.8h2.7M229.4 761.6h2.7M232.2 724.8h2.7M232.2 716.6h2.7M233.6 725.5h2.7M237.0 722.4h2.7M238.5 729.8h2.7M240.6 733.0h2.7M242.8 738.0h2.7M244.4 740.9h2.7M246.0 741.5h2.7M247.5 743.9h2.7M249.1 745.7h2.7M251.3 753.1h2.7M252.6 757.7h2.7M256.6 762.7h2.7M258.2 766.9h2.7M259.7 768.0h2.7M263.5 773.0h2.7M265.1 773.3h2.7M265.5 754.2h2.7M267.2 744.6h2.7M269.3 748.9h2.7M270.4 757.4h2.7M271.8 760.6h2.7M273.9 771.5h2.7M275.2 771.2h2.7M275.7 759.5h2.7M276.1 738.3h2.7M277.8 734.8h2.7M277.8 718.1h2.7M279.4 717.9h2.7M281.0 718.8h2.7M281.0 746.8h2.7M283.1 749.9h2.7M284.2 729.8h2.7M284.2 694.8h2.7M285.8 690.2h2.7M285.8 677.4h2.7M287.1 681.2h2.7M288.4 681.0h2.7M288.8 694.8h2.7M290.5 698.0h2.7M290.9 716.0h2.7M292.6 717.4h2.7M293.1 734.0h2.7M294.8 753.1h2.7M295.8 768.0h2.7M297.9 772.5h2.7M299.7 774.5h2.7M301.5 777.6h2.7M303.2 776.5h2.7M305.4 781.1h2.7M307.0 777.6h2.7M308.6 775.4h2.7M309.6 763.7h2.7M311.7 755.5h2.7M313.3 757.7h2.7M314.9 759.5h2.7M317.0 765.1h2.7M319.2 771.2h2.7M321.3 768.4h2.7M323.4 765.9h2.7M325.0 765.3h2.7M326.6 765.9h2.7M327.7 770.5h2.7M331.9 771.2h2.7M336.1 770.4h2.7M337.7 766.9h2.7M339.3 763.7h2.7M340.9 765.3h2.7M342.5 765.9h2.7M344.1 766.9h2.7M345.7 766.9h2.7M346.1 738.3h2.7M347.8 724.5h2.7M347.4 673.6h2.7M348.9 659.8h2.7M349.5 665.1h2.7M351.0 682.0h2.7M351.6 725.5h2.7M353.1 736.2h2.7M353.1 758.4h2.7M355.2 764.8h2.7M355.9 746.8h2.7M357.4 730.8h2.7M358.0 679.9h2.7M359.5 661.9h2.7M361.6 682.0h2.7M361.6 724.5h2.7M363.7 737.2h2.7M363.7 756.3h2.7M365.8 762.7h2.7M367.4 763.8h2.7M369.0 763.7h2.7M370.6 763.8h2.7M372.2 764.8h2.7M373.8 763.8h2.7M375.4 763.7h2.7M376.5 754.2h2.7M378.1 751.6h2.7M379.6 753.1h2.7M381.8 748.6h2.7M383.9 754.2h2.7M385.5 753.1h2.7M387.1 756.3h2.7M388.1 735.1h2.7M390.3 711.8h2.7M391.9 705.7h2.7M394.1 710.7h2.7M394.9 718.1h2.7M397.0 719.2h2.7M398.7 727.7h2.7M400.4 747.8h2.7M400.9 756.3h2.7M405.1 754.2h2.7M406.2 747.8h2.7M409.4 743.6h2.7M411.5 731.9h2.7M412.5 714.9h2.7M414.0 701.1h2.7M415.7 705.4h2.7M416.8 719.2h2.7M418.9 733.0h2.7M422.1 749.9h2.7M423.7 750.0h2.7M425.3 753.1h2.7M426.9 754.6h2.7M428.4 752.1h2.7M429.5 740.4h2.7M431.0 738.3h2.7M431.0 724.5h2.7M432.7 721.0h2.7M434.4 724.8h2.7M435.2 737.2h2.7M436.6 737.8h2.7M438.0 739.3h2.7M439.6 742.4h2.7M441.2 742.5h2.7M442.9 749.9h2.7M445.0 756.3h2.7M453.3 756.3h2.7M454.9 756.2h2.7M456.5 755.3h2.7M459.7 759.5h2.7M461.8 760.7h2.7M464.0 762.7h2.7M465.5 760.7h2.7M467.1 759.5h2.7M468.7 763.8h2.7M470.3 763.7h2.7M474.6 765.3h2.7M476.7 765.3h2.7M478.8 766.9h2.7M480.9 766.9h2.7M483.1 769.0h2.7M485.2 769.9h2.7M487.3 771.2h2.7M489.4 771.5h2.7M491.5 773.0h2.7M493.7 771.5h2.7M495.8 771.8h2.7M497.6 773.0h2.7M499.3 774.5h2.7M502.9 773.0h2.7M504.6 771.5h2.7M506.4 773.3h2.7M508.5 773.0h2.7M510.6 774.5h2.7M514.9 775.4h2.7M517.0 774.5h2.7M519.1 774.8h2.7M520.9 774.5h2.7M522.7 773.0h2.7M524.4 772.7h2.7M526.6 773.0h2.7M530.3 774.5h2.7M531.9 776.0h2.7M534.0 773.0h2.7M536.1 771.2h2.7M537.7 771.5h2.7M539.3 771.8h2.7M541.4 776.2h2.7M545.1 774.5h2.7M547.0 777.6h2.7M548.8 777.5h2.7M550.6 776.0h2.7M554.1 776.9h2.7M555.6 771.5h2.7M557.3 764.8h2.7M561.1 765.9h2.7M562.6 773.3h2.7M564.7 778.6h2.7M566.9 782.1h2.7M568.8 782.2h2.7M570.8 782.2h2.7M572.8 782.2h2.7M574.8 782.2h2.7M576.7 783.7h2.7M578.7 782.2h2.7M582.8 779.7h2.7M584.9 779.1h2.7M587.0 780.6h2.7M589.2 780.3h2.7M592.3 779.0h2.7M594.5 782.5h2.7M596.0 783.7h2.7M597.6 786.0h2.7M614.1 785.2h2.7M615.7 784.5h2.7M623.6 783.7h2.7M625.2 782.8h2.7M625.2 761.6h2.7M626.3 748.9h2.7M625.9 690.5h2.7M628.4 670.4h2.7M628.4 621.6h2.7M630.5 615.5h2.7M630.5 627.9h2.7M632.0 640.2h2.7M632.0 694.8h2.7M634.1 709.6h2.7M634.1 742.5h2.7M635.8 750.6h2.7M638.0 772.2h2.7M638.0 779.7h2.7M640.1 782.1h2.7M641.7 786.8h2.7M644.9 788.3h2.7M646.4 788.1h2.7M648.6 789.8h2.7M650.7 788.3h2.7M652.8 788.8h2.7M654.6 788.3h2.7M656.3 786.8h2.7M658.1 788.1h2.7M660.2 788.3h2.7M662.4 785.0h2.7M664.5 785.2h2.7M668.2 786.8h2.7M669.8 788.1h2.7M671.9 789.6h2.7M696.3 789.8h2.7M698.4 789.2h2.7M700.6 789.8h2.7M702.7 790.9h2.7M707.6 790.9h2.7M729.2 790.4h2.7M731.3 789.8h2.7M733.4 790.3h2.7M735.6 791.3h2.7M737.3 791.3h2.7M739.1 789.8h2.7M740.9 791.8h2.7M745.1 793.0h2.7" fill="none" stroke-width="1.3"/>
<path d="M865.3 739.3H866.9V738.5v-2.5v3.3V738.5V736.2H868.5H870.6V742.8H872.7V746.4v-2.5v3.7V746.4H876.4H880.2V743.9H882.3v-1.6v3.2V743.9H883.7V744.6v-2.5v4.1V744.6H885.0V746.8H886.3V749.2v-1.2v2.4V749.2V752.1H887.6H889.2V753.8v-2.5v4.1V753.8H890.8V754.2v-1.2v2.0V754.2V755.3H892.9H895.0V753.8v-2.5v3.7V753.8V755.3H897.1V753.8H899.3v-1.6v2.4000000000000004V753.8V752.1H901.4L903.1 741.5H904.6V742.5v-1.6v1.6V742.5L905.6 749.9H907.2V752.2H908.8V753.1v-1.6v2.8V753.1V756.8H910.4H912.0V756.3V758.3H914.1v-2.5v3.3V758.3H916.2V758.4H918.4V758.4V757.8H920.5L921.5 745.7H923.2V742.9v-2.5v2.5V742.9L924.7 752.1H926.8V756.0V759.5H927.9H929.7V759.9H931.4V761.4v-2v2V761.4V760.6H933.2v-1.6v2.8V760.6L933.2 635.4L934.9 625.8L934.9 614.1L935.5 717.1H937.5V724.5L937.5 761.6H939.0V766.0v-2.5v3.3V766.0H940.6V765.9v-1.2v2.8V765.9H942.8V766.0v-1.2v2.0V766.0H944.9V770.1v-2v2V770.1V770.6H947.0H949.1V773.3v-1.2v1.2V773.3H951.2V773.6V774.4H953.4v-2v2V774.4H955.1V775.2H956.9V775.2V775.4H958.7v-2v3.6V775.4H960.8V776.7V777.5H962.9v-2.5v4.1V777.5V776.7H965.0v-2v2V776.7H967.2V775.4H968.8V779.8v-1.2v2.4V779.8H970.3V779.7v-2.5v3.7V779.7H972.1V782.8v-1.2v2.0V782.8H973.9V781.3v-1.2v2.4V781.3V782.4H975.6v-1.2v2.4V782.4H977.4V782.8v-1.6v1.6V782.8V784.4H979.2V785.0H981.0v-2v3.2V785.0H983.1V785.9v-1.2v2.8V785.9H985.2V784.4v-1.6v2.4000000000000004V784.4H987.3V786.7H989.4V785.9H991.6V785.9V788.1H993.7H995.8V788.9v-1.6v2.4000000000000004V788.9V788.9H997.9v-1.6v2.8V788.9V789.2H1000.1v-2v3.6V789.2V790.5H1002.2v-2v2.8V790.5H1004.3V792.0v-2.5v4.1V792.0V792.4H1006.4v-2.5v3.7V792.4H1008.5V792.0v-2v2V792.0H1010.7V793.5H1012.8V795.1v-2v3.2V795.1V793.9H1014.9v-1.6v2.8V793.9H1017.0V796.6H1019.2V795.1H1021.3V795.6H1023.4V798.1v-1.2v1.2V798.1H1025.5V796.6H1027.6V797.7H1029.5V796.6H1031.4V798.1v-2.5v2.5V798.1V796.6H1033.2H1035.1V798.8v-1.2v2.0V798.8H1036.9V799.7v-2.5v3.3V799.7H1038.8V799.7H1040.6V799.7H1042.5V799.8H1044.6V799.7v-2.5v2.5V799.7H1046.7V800.9v-1.2v1.2V800.9H1048.9V799.7H1051.0V798.8v-1.2v2.0V798.8L1052.0 793.4H1053.5V796.9v-2.5v3.3V796.9V799.7H1054.9H1056.3V801.9V803.4H1058.4H1062.3H1066.2H1070.1V805.1H1072.2v-2v3.2V805.1H1076.8H1081.4H1086.0H1090.6v-2v2V805.1H1095.2H1099.8H1104.4H1109.0H1113.6V806.2H1115.7v-2v2.8V806.2V804.2H1117.8v-1.6v2.8V804.2H1119.9V805.8H1121.5V804.2H1123.1V806.8H1127.1H1131.1H1135.1H1139.0L1139.0 785.0H1141.2V780.7L1141.2 759.9L1141.2 778.6V781.8H1143.3L1143.3 804.1H1144.9V804.2v-2v3.6V804.2H1146.5V805.1V802.7H1148.1v-2.5v4.1V802.7H1149.7V800.9v-1.6v2.8V800.9H1151.8V804.8V805.8H1153.5H1155.3V804.2v-1.6v3.2V804.2V805.1H1157.1H1159.2V805.8v-2.5v2.5V805.8H1161.3V807.2v-2.5v3.7V807.2V807.3H1163.4v-1.6v2.8V807.3H1165.6V807.3v-2v3.2V807.3H1167.7V807.3H1169.8V806.6H1171.9V804.2H1174.1V805.8v-2v2.8V805.8V805.8H1176.0H1178.0V805.8H1180.0V806.2v-1.2v2.4V806.2H1184.5H1188.9H1193.4H1197.9H1202.3H1206.8H1211.3H1215.7H1220.2H1224.6H1229.1V804.4H1230.6v-2.5v2.5V804.4H1232.3V806.5v-1.6v2.8V806.5H1234.3V807.3H1236.3V807.3v-1.2v2.8V807.3H1238.3V807.3H1240.3V807.3H1242.3V807.3V805.8H1244.3v-2v2V805.8H1246.3V807.3H1248.3V805.8v-1.2v2.0V805.8H1250.3V806.6v-1.2v2.4V806.6L1251.8 799.8H1253.1V796.6v-1.2v2.0V796.6V802.7H1255.2v-2v2V802.7H1256.7V802.7v-1.2v2.8V802.7V804.5H1258.2V804.2H1260.1V805.1H1262.0v-2v2V805.1H1263.1V807.4H1267.6H1272.1H1276.6H1281.1H1285.6H1290.1H1294.6v-2.5v3.5V806.6H1299.1V804.1H1301.3v-2v3.2V804.1V807.4H1302.3v-1.6v2.8V807.4H1306.9H1311.5H1316.1V804.1H1317.6H1319.3V806.6v-2v3.2V806.6H1323.8H1328.3v-2v3V806.6H1332.8v-2.5v2.5V806.6H1337.3V805.5H1339.5v-1.6v3.2V805.5H1343.8H1348.2v-2.5v2.5V804.7H1352.5H1356.9H1361.3H1365.6v-2.5v2.5V804.7H1370.0H1374.4H1378.7V806.5H1380.4v-1.2v1.2V806.5V807.3H1381.7H1383.0V804.1H1384.0V806.6H1388.8H1393.6v-2.5v2.5V806.6V805.1H1395.7v-1.2v2.0V805.1V804.2H1397.8v-2.5v3.7V804.2H1399.9V806.6V805.8H1401.5v-2v3.2V805.8V803.6H1403.1H1405.2V805.5v-1.6v3.2V805.5H1409.0v-1.5v1.5V804.7H1412.7L1413.1 795.6V794.6H1414.8v-1.2v2.8V794.6L1414.8 749.9L1415.8 755.3L1416.5 792.4V793.4H1418.6v-1.2v1.2V793.4L1419.0 799.8H1421.2V802.7V802.7H1422.7V803.0H1424.3H1428.6H1432.8v-2v3V803.0H1433.5V804.7v-2.5v3.3V804.7H1438.3v-2v2V804.7H1443.2H1448.1v-1.5v1.5V804.7H1453.0H1454.7V803.0V804.2H1456.0v-2v3.6V804.2V804.7H1457.2H1460.6H1464.0V802.2H1465.3v-1.6v3.2V802.2H1469.8H1474.3H1478.9" fill="none" stroke-width="1.45" stroke-linejoin="miter" stroke-miterlimit="2"/>
<path d="M865.3 739.3h2.7M866.9 738.5h2.7M868.5 736.2h2.7M870.6 742.8h2.7M872.7 746.4h2.7M882.3 743.9h2.7M883.7 744.6h2.7M885.0 746.8h2.7M886.3 749.2h2.7M887.6 752.1h2.7M889.2 753.8h2.7M890.8 754.2h2.7M892.9 755.3h2.7M895.0 753.8h2.7M897.1 755.3h2.7M899.3 753.8h2.7M901.4 752.1h2.7M903.1 741.5h2.7M904.6 742.5h2.7M905.6 749.9h2.7M907.2 752.2h2.7M908.8 753.1h2.7M910.4 756.8h2.7M912.0 756.3h2.7M914.1 758.3h2.7M916.2 758.4h2.7M918.4 758.4h2.7M920.5 757.8h2.7M923.2 742.9h2.7M924.7 752.1h2.7M926.8 756.0h2.7M927.9 759.5h2.7M931.4 761.4h2.7M933.2 760.6h2.7M933.2 635.4h2.7M934.9 625.8h2.7M934.9 614.1h2.7M935.5 717.1h2.7M937.5 724.5h2.7M937.5 761.6h2.7M939.0 766.0h2.7M942.8 766.0h2.7M944.9 770.1h2.7M947.0 770.6h2.7M951.2 773.6h2.7M955.1 775.2h2.7M956.9 775.2h2.7M958.7 775.4h2.7M960.8 776.7h2.7M962.9 777.5h2.7M965.0 776.7h2.7M967.2 775.4h2.7M968.8 779.8h2.7M970.3 779.7h2.7M972.1 782.8h2.7M975.6 782.4h2.7M977.4 782.8h2.7M979.2 784.4h2.7M981.0 785.0h2.7M985.2 784.4h2.7M987.3 786.7h2.7M989.4 785.9h2.7M991.6 785.9h2.7M993.7 788.1h2.7M995.8 788.9h2.7M997.9 788.9h2.7M1000.1 789.2h2.7M1002.2 790.5h2.7M1004.3 792.0h2.7M1006.4 792.4h2.7M1008.5 792.0h2.7M1010.7 793.5h2.7M1012.8 795.1h2.7M1014.9 793.9h2.7M1017.0 796.6h2.7M1019.2 795.1h2.7M1021.3 795.6h2.7M1023.4 798.1h2.7M1025.5 796.6h2.7M1029.5 796.6h2.7M1031.4 798.1h2.7M1033.2 796.6h2.7M1035.1 798.8h2.7M1036.9 799.7h2.7M1038.8 799.7h2.7M1040.6 799.7h2.7M1042.5 799.8h2.7M1044.6 799.7h2.7M1046.7 800.9h2.7M1048.9 799.7h2.7M1051.0 798.8h2.7M1052.0 793.4h2.7M1053.5 796.9h2.7M1054.9 799.7h2.7M1056.3 801.9h2.7M1058.4 803.4h2.7M1070.1 803.4h2.7M1072.2 805.1h2.7M1099.8 805.1h2.7M1119.9 805.8h2.7M1121.5 804.2h2.7M1123.1 806.8h2.7M1131.1 806.8h2.7M1135.1 806.8h2.7M1139.0 785.0h2.7M1141.2 780.7h2.7M1141.2 759.9h2.7M1141.2 778.6h2.7M1143.3 781.8h2.7M1144.9 804.2h2.7M1146.5 805.1h2.7M1148.1 802.7h2.7M1149.7 800.9h2.7M1151.8 804.8h2.7M1153.5 805.8h2.7M1155.3 804.2h2.7M1157.1 805.1h2.7M1159.2 805.8h2.7M1161.3 807.2h2.7M1165.6 807.3h2.7M1169.8 806.6h2.7M1171.9 804.2h2.7M1176.0 805.8h2.7M1178.0 805.8h2.7M1180.0 806.2h2.7M1188.9 806.2h2.7M1211.3 806.2h2.7M1230.6 804.4h2.7M1232.3 806.5h2.7M1234.3 807.3h2.7M1238.3 807.3h2.7M1240.3 807.3h2.7M1242.3 807.3h2.7M1244.3 805.8h2.7M1246.3 807.3h2.7M1250.3 806.6h2.7M1251.8 799.8h2.7M1253.1 796.6h2.7M1255.2 802.7h2.7M1258.2 804.5h2.7M1262.0 805.1h2.7M1263.1 807.4h2.7M1276.6 806.6h2.7M1301.3 804.1h2.7M1302.3 807.4h2.7M1317.6 804.1h2.7M1319.3 806.6h2.7M1337.3 806.6h2.7M1339.5 805.5h2.7M1380.4 806.5h2.7M1381.7 807.3h2.7M1383.0 804.1h2.7M1384.0 806.6h2.7M1395.7 805.1h2.7M1397.8 804.2h2.7M1399.9 806.6h2.7M1401.5 805.8h2.7M1403.1 803.6h2.7M1405.2 805.5h2.7M1413.1 795.6h2.7M1414.8 794.6h2.7M1415.8 755.3h2.7M1416.5 792.4h2.7M1418.6 793.4h2.7M1419.0 799.8h2.7M1421.2 802.7h2.7M1422.7 802.7h2.7M1424.3 803.0h2.7M1433.5 804.7h2.7M1448.1 804.7h2.7M1454.7 803.0h2.7M1456.0 804.2h2.7M1457.2 804.7h2.7M1460.6 804.7h2.7M1465.3 802.2h2.7" fill="none" stroke-width="1.3"/>
<path d="M191.8 1238.4L192.3 1211.9L194.0 1184.3L193.5 1045.3L195.7 1019.9L195.7 992.7L196.1 1012.4L197.8 1039.4L197.8 1100.5L199.9 1115.8L199.3 1172.6L201.4 1187.5L201.0 1213.0V1214.3H203.1v-2v3.2V1214.3L203.1 1220.4H204.4V1223.2H205.6V1223.6V1227.8H206.9v-1.2v2.4V1227.8V1227.8H208.2H210.3V1230.4v-1.6v2.8V1230.4L211.6 1223.6V1220.7H213.1L213.1 1202.4V1199.3H214.8v-2v3.2V1199.3L215.2 1193.4H217.3V1194.9L217.3 1201.3H218.8V1204.2v-1.2v2.4V1204.2L219.4 1215.1L220.9 1224.6H223.0V1229.9v-2.5v3.3V1229.9V1234.9H224.7v-2.5v2.5V1234.9H226.9V1235.4V1234.6H229.0L229.4 1210.8L231.1 1200.2L231.5 1189.6H233.6V1193.9L234.9 1179.0L235.3 1154.6V1149.6H237.0v-1.2v2.4V1149.6L237.0 1143.4H238.3V1143.6V1145.5H239.6v-2v3.2V1145.5L239.2 1156.7V1159.6H240.6L240.6 1177.9H242.8V1182.2v-1.6v1.6V1182.2L242.8 1197.0V1198.1H244.9L244.9 1209.8V1210.1H246.4L246.4 1219.3V1224.9H248.1v-1.2v2.4V1224.9H249.7V1226.3V1227.8H251.3V1233.9H253.4v-2.5v2.5V1233.9V1232.4H255.5H257.6V1231.0V1232.4H259.2v-1.6v2.8V1232.4H260.8V1234.8H262.9V1233.9v-2v3.2V1233.9V1234.8H265.1v-2v3.6V1234.8L265.5 1227.8V1225.7H267.2v-2.5v4.1V1225.7L267.2 1220.4V1220.1H268.8V1220.4H270.4L271.0 1228.9H273.1V1229.2v-2.5v4.1V1229.2L273.5 1223.6V1219.0H275.2v-2.5v4.1V1219.0L276.1 1207.7H277.8V1204.8L277.8 1196.4H279.4V1197.2V1197.0H281.0L281.6 1211.9H283.7V1206.6L284.2 1166.3L286.3 1154.6L285.8 1121.3V1116.4H288.0v-1.6v3.2V1116.4L288.0 1105.8H289.5V1110.8v-1.6v1.6V1110.8L290.1 1122.8H291.6V1125.6v-2v3.6V1125.6L291.6 1152.5H293.7V1159.9v-2.5v2.5V1159.9L293.1 1188.6V1195.2H295.2v-2.5v4.1V1195.2L295.2 1220.4H297.3V1226.8H299.0V1231.3v-1.2v1.2V1231.3V1232.4H301.1H303.2V1232.4H305.4V1231.6L306.4 1221.4H307.9V1218.3v-2v2V1218.3L307.9 1191.7L309.6 1184.3L309.6 1165.9V1166.6H310.9H312.2V1167.3v-2.5v2.5V1167.3L312.2 1183.3H313.9V1187.9v-1.6v2.4000000000000004V1187.9L313.9 1204.5V1207.4H316.0L316.0 1214.0H317.3V1218.6v-1.6v2.8V1218.6H318.5V1223.6v-1.2v2.0V1223.6H319.9V1221.7v-2.5v4.1V1221.7H321.3V1220.4v-1.2v2.4V1220.4L321.9 1210.4V1209.4H323.2V1210.4H324.5v-1.2v2.8V1210.4L325.5 1223.6V1220.1H327.1V1218.3H328.7v-2v2.8V1218.3H330.8V1220.4v-1.6v2.4000000000000004V1220.4L331.9 1228.2V1228.6H334.0v-2v2V1228.6L334.7 1220.4H336.1V1218.3L336.1 1208.3V1209.4H337.5V1208.7H338.9L339.7 1214.0V1216.4H341.4v-2v2V1216.4L342.5 1223.6V1226.8H344.6L346.1 1213.0V1207.7H347.8L347.4 1166.3L349.3 1150.4L348.9 1131.9V1137.9H351.0L351.0 1169.5L353.1 1179.0L352.5 1205.5V1206.4H353.9H355.2V1208.7L355.2 1218.3L356.7 1209.8H357.8V1206.9v-2v2.8V1206.9L357.8 1177.9L359.5 1167.3L359.5 1157.4V1162.0H361.2L361.2 1185.4V1190.7H363.1v-2.5v3.7V1190.7L363.1 1207.7H365.2V1211.6L365.8 1220.4H367.2V1220.1v-1.2v1.2V1220.1H368.6V1221.4v-1.2v2.4V1221.4V1220.1H370.4H372.2V1217.6V1215.5H374.3v-1.2v1.2V1215.5V1214.0H376.5v-2v2V1214.0L377.5 1208.7V1209.4H379.1v-1.6v1.6V1209.4H380.7V1207.7L380.7 1201.3L382.2 1194.9V1201.0H383.9L384.9 1209.8V1213.3H387.1v-2v3.2V1213.3V1213.0H389.2v-2v2.8V1213.0L389.2 1198.1L390.3 1175.8H391.9V1171.6L391.9 1162.5V1164.4H394.1L394.1 1172.6V1174.2H395.3v-1.6v1.6V1174.2V1176.9H396.6v-2v2.8V1176.9V1183.0H398.7L398.7 1193.9H400.4V1198.1L400.4 1207.7H402.6V1211.9H403.8V1212.5H405.1V1208.7L406.2 1202.4V1206.9H408.3v-2.5v2.5V1206.9H409.9V1206.4v-1.2v1.2V1206.4V1203.4H411.5v-1.2v2.0V1203.4L411.9 1189.6V1185.7H413.6v-1.6v2.8V1185.7L413.6 1182.8V1185.0H414.9v-1.2v1.2V1185.0H416.1V1186.4v-2.5v3.7V1186.4L416.8 1197.0V1199.5H418.9L418.9 1205.5V1211.6H421.0v-1.6v2.8V1211.6L422.5 1220.4V1218.6H424.4V1218.3H426.3v-2v2.8V1218.3V1218.6H427.9H429.5V1216.1v-1.6v1.6V1216.1L430.6 1205.5L431.0 1193.9V1191.7H432.7V1194.2H433.8v-1.2v2.8V1194.2L434.8 1204.5V1209.0H436.9H439.1V1206.6H440.3V1207.9H441.6V1209.8L442.9 1221.4V1222.5H445.0v-1.6v1.6V1222.5H446.5V1221.7v-2.5v2.5V1221.7H448.0V1221.4V1221.7H449.6v-1.6v3.2V1221.7V1224.6H451.2v-2.5v3.3V1224.6V1226.3H453.3H455.5V1224.7V1225.3H457.6v-2v2.8V1225.3V1226.3H459.2v-2v2V1226.3H460.8V1228.2v-1.6v2.8V1228.2V1230.8H462.9v-2v3.2V1230.8V1230.8H465.0v-2.5v3.7V1230.8H467.1V1229.9H469.3V1229.3H471.4V1229.3H473.5V1229.3H475.6V1229.5H477.7V1229.3v-1.2v2.0V1229.3H479.9V1229.9v-2v2V1229.9H483.1H486.2v-2.5v2.5V1229.9H488.4V1231.6H493.0H497.6H502.1H506.7H511.3H515.9V1228.9H517.0v-1.6v1.6V1228.9H519.1V1229.3v-1.2v1.2V1229.3V1226.8H521.2V1224.7H523.4H525.5V1227.8V1227.2H527.6v-2v3.2V1227.2H529.7V1228.9v-1.6v1.6V1228.9V1227.8H531.9v-2v2.8V1227.8H534.0V1227.8v-1.6v2.4000000000000004V1227.8H535.7V1223.6V1223.2H536.9v-2v3.6V1223.2H538.2V1224.6V1228.9H540.3H541.9V1232.4V1231.6H543.5v-1.2v2.4V1231.6V1230.8H545.6v-1.6v1.6V1230.8V1229.9H547.8v-1.2v2.4V1229.9H553.1H558.4V1231.6H560.5v-2v2.8V1231.6V1233.0H562.6H566.5H570.4H574.3V1230.9H576.4v-1.6v2.8V1230.9H580.7H584.9H589.2v-1.5v1.5V1231.6V1229.2H591.3H592.9V1229.3H594.5V1230.6v-1.2v2.8V1230.6H596.6V1233.0H600.8H605.1H609.3v-2.5v2.5V1233.8H613.6H617.8H622.0L622.7 1225.7L624.2 1219.3L624.2 1168.4L626.3 1145.1L625.6 1052.7L628.4 1028.3L628.4 987.0V990.1H629.5L629.5 1028.3L631.6 1042.8L631.6 1116.4L633.7 1133.4L633.3 1172.6L635.4 1182.2L634.8 1205.5V1209.0H636.9L637.5 1221.4V1226.8H639.0v-1.2v2.8V1226.8H640.6V1229.3v-1.2v2.0V1229.3V1231.0H642.2H643.8V1232.4v-1.6v2.8V1232.4V1233.1H645.4v-1.2v1.2V1233.1H650.3H655.3H660.2H662.4V1230.3V1227.8H663.7v-1.6v1.6V1227.8H665.1V1227.4H666.9V1229.3V1229.9H668.7v-2v3.2V1229.9V1232.4H670.8v-2.5v2.5V1232.4H673.0V1232.5v-2.5v3.3V1232.5H674.6V1232.4v-2.5v2.5V1232.4V1234.2H676.2v-2v2.8V1234.2H680.6H685.1H689.5H694.0H698.4H700.6V1232.4H702.1V1230.8v-2v3.6V1230.8V1233.8H703.7v-2.5v4.1V1233.8V1235.2H705.9v-1.6v1.6V1235.2H710.1v-1.5v1.5V1235.2H714.4H718.6H722.8H727.1V1233.5H728.1v-2.5v3.3V1233.5H729.9V1235.4v-2v3.6V1235.4V1233.9H731.7V1234.2H733.4v-1.2v2.8V1234.2V1234.5H735.6H740.3H745.1" fill="none" stroke-width="1.45" stroke-linejoin="miter" stroke-miterlimit="2"/>
<path d="M191.8 1238.4h2.7M192.3 1211.9h2.7M194.0 1184.3h2.7M193.5 1045.3h2.7M195.7 1019.9h2.7M195.7 992.7h2.7M196.1 1012.4h2.7M197.8 1039.4h2.7M197.8 1100.5h2.7M199.9 1115.8h2.7M199.3 1172.6h2.7M201.4 1187.5h2.7M201.0 1213.0h2.7M203.1 1214.3h2.7M204.4 1223.2h2.7M206.9 1227.8h2.7M208.2 1227.8h2.7M210.3 1230.4h2.7M211.6 1223.6h2.7M213.1 1220.7h2.7M213.1 1202.4h2.7M214.8 1199.3h2.7M215.2 1193.4h2.7M217.3 1201.3h2.7M218.8 1204.2h2.7M219.4 1215.1h2.7M220.9 1224.6h2.7M223.0 1229.9h2.7M224.7 1234.9h2.7M226.9 1235.4h2.7M229.0 1234.6h2.7M229.4 1210.8h2.7M231.1 1200.2h2.7M231.5 1189.6h2.7M233.6 1193.9h2.7M234.9 1179.0h2.7M235.3 1154.6h2.7M237.0 1149.6h2.7M237.0 1143.4h2.7M238.3 1143.6h2.7M239.6 1145.5h2.7M239.2 1156.7h2.7M240.6 1159.6h2.7M240.6 1177.9h2.7M242.8 1182.2h2.7M242.8 1197.0h2.7M244.9 1198.1h2.7M246.4 1210.1h2.7M246.4 1219.3h2.7M248.1 1224.9h2.7M249.7 1226.3h2.7M251.3 1227.8h2.7M253.4 1233.9h2.7M255.5 1232.4h2.7M257.6 1231.0h2.7M259.2 1232.4h2.7M260.8 1234.8h2.7M265.1 1234.8h2.7M265.5 1227.8h2.7M267.2 1225.7h2.7M268.8 1220.1h2.7M270.4 1220.4h2.7M271.0 1228.9h2.7M273.1 1229.2h2.7M273.5 1223.6h2.7M275.2 1219.0h2.7M276.1 1207.7h2.7M277.8 1204.8h2.7M277.8 1196.4h2.7M281.0 1197.0h2.7M281.6 1211.9h2.7M283.7 1206.6h2.7M284.2 1166.3h2.7M286.3 1154.6h2.7M285.8 1121.3h2.7M288.0 1116.4h2.7M288.0 1105.8h2.7M290.1 1122.8h2.7M291.6 1152.5h2.7M293.7 1159.9h2.7M293.1 1188.6h2.7M295.2 1195.2h2.7M295.2 1220.4h2.7M297.3 1226.8h2.7M299.0 1231.3h2.7M301.1 1232.4h2.7M303.2 1232.4h2.7M305.4 1231.6h2.7M306.4 1221.4h2.7M307.9 1218.3h2.7M307.9 1191.7h2.7M309.6 1184.3h2.7M309.6 1165.9h2.7M310.9 1166.6h2.7M312.2 1167.3h2.7M312.2 1183.3h2.7M313.9 1187.9h2.7M313.9 1204.5h2.7M316.0 1207.4h2.7M316.0 1214.0h2.7M317.3 1218.6h2.7M318.5 1223.6h2.7M319.9 1221.7h2.7M321.3 1220.4h2.7M321.9 1210.4h2.7M323.2 1209.4h2.7M324.5 1210.4h2.7M325.5 1223.6h2.7M327.1 1220.1h2.7M328.7 1218.3h2.7M330.8 1220.4h2.7M331.9 1228.2h2.7M334.0 1228.6h2.7M334.7 1220.4h2.7M336.1 1218.3h2.7M336.1 1208.3h2.7M337.5 1209.4h2.7M338.9 1208.7h2.7M339.7 1214.0h2.7M341.4 1216.4h2.7M342.5 1223.6h2.7M344.6 1226.8h2.7M346.1 1213.0h2.7M347.8 1207.7h2.7M347.4 1166.3h2.7M349.3 1150.4h2.7M348.9 1131.9h2.7M351.0 1169.5h2.7M353.1 1179.0h2.7M352.5 1205.5h2.7M353.9 1206.4h2.7M355.2 1208.7h2.7M355.2 1218.3h2.7M356.7 1209.8h2.7M357.8 1177.9h2.7M359.5 1167.3h2.7M361.2 1162.0h2.7M361.2 1185.4h2.7M363.1 1190.7h2.7M365.2 1211.6h2.7M365.8 1220.4h2.7M367.2 1220.1h2.7M370.4 1220.1h2.7M372.2 1217.6h2.7M374.3 1215.5h2.7M376.5 1214.0h2.7M377.5 1208.7h2.7M379.1 1209.4h2.7M380.7 1207.7h2.7M380.7 1201.3h2.7M382.2 1194.9h2.7M383.9 1201.0h2.7M384.9 1209.8h2.7M387.1 1213.3h2.7M389.2 1213.0h2.7M389.2 1198.1h2.7M390.3 1175.8h2.7M391.9 1162.5h2.7M394.1 1164.4h2.7M394.1 1172.6h2.7M395.3 1174.2h2.7M396.6 1176.9h2.7M398.7 1183.0h2.7M398.7 1193.9h2.7M400.4 1198.1h2.7M400.4 1207.7h2.7M402.6 1211.9h2.7M405.1 1208.7h2.7M406.2 1202.4h2.7M408.3 1206.9h2.7M409.9 1206.4h2.7M411.5 1203.4h2.7M411.9 1189.6h2.7M413.6 1185.7h2.7M413.6 1182.8h2.7M414.9 1185.0h2.7M416.1 1186.4h2.7M416.8 1197.0h2.7M418.9 1199.5h2.7M418.9 1205.5h2.7M421.0 1211.6h2.7M422.5 1220.4h2.7M424.4 1218.6h2.7M426.3 1218.3h2.7M427.9 1218.6h2.7M429.5 1216.1h2.7M430.6 1205.5h2.7M431.0 1193.9h2.7M432.7 1191.7h2.7M433.8 1194.2h2.7M434.8 1204.5h2.7M436.9 1209.0h2.7M439.1 1206.6h2.7M440.3 1207.9h2.7M441.6 1209.8h2.7M442.9 1221.4h2.7M445.0 1222.5h2.7M446.5 1221.7h2.7M448.0 1221.4h2.7M449.6 1221.7h2.7M451.2 1224.6h2.7M453.3 1226.3h2.7M455.5 1224.7h2.7M457.6 1225.3h2.7M459.2 1226.3h2.7M460.8 1228.2h2.7M462.9 1230.8h2.7M465.0 1230.8h2.7M467.1 1229.9h2.7M471.4 1229.3h2.7M473.5 1229.3h2.7M475.6 1229.5h2.7M477.7 1229.3h2.7M479.9 1229.9h2.7M483.1 1229.9h2.7M488.4 1231.6h2.7M515.9 1231.6h2.7M517.0 1228.9h2.7M519.1 1229.3h2.7M523.4 1224.7h2.7M525.5 1227.8h2.7M527.6 1227.2h2.7M529.7 1228.9h2.7M531.9 1227.8h2.7M534.0 1227.8h2.7M535.7 1223.6h2.7M536.9 1223.2h2.7M538.2 1224.6h2.7M540.3 1228.9h2.7M541.9 1232.4h2.7M543.5 1231.6h2.7M547.8 1229.9h2.7M560.5 1231.6h2.7M562.6 1233.0h2.7M574.3 1233.8h2.7M591.3 1229.2h2.7M592.9 1229.3h2.7M594.5 1230.6h2.7M596.6 1233.0h2.7M613.6 1233.8h2.7M622.7 1225.7h2.7M624.2 1219.3h2.7M626.3 1145.1h2.7M625.6 1052.7h2.7M628.4 987.0h2.7M629.5 990.1h2.7M629.5 1028.3h2.7M631.6 1042.8h2.7M631.6 1116.4h2.7M633.7 1133.4h2.7M633.3 1172.6h2.7M635.4 1182.2h2.7M634.8 1205.5h2.7M636.9 1209.0h2.7M637.5 1221.4h2.7M640.6 1229.3h2.7M642.2 1231.0h2.7M643.8 1232.4h2.7M645.4 1233.1h2.7M660.2 1233.1h2.7M662.4 1230.3h2.7M663.7 1227.8h2.7M665.1 1227.4h2.7M666.9 1229.3h2.7M668.7 1229.9h2.7M670.8 1232.4h2.7M673.0 1232.5h2.7M676.2 1234.2h2.7M685.1 1234.2h2.7M700.6 1232.4h2.7M702.1 1230.8h2.7M703.7 1233.8h2.7M705.9 1235.2h2.7M714.4 1235.2h2.7M718.6 1235.2h2.7M728.1 1233.5h2.7M729.9 1235.4h2.7M731.7 1233.9h2.7M733.4 1234.2h2.7M735.6 1234.5h2.7" fill="none" stroke-width="1.3"/>
<path d="M865.3 1225.7L867.4 1215.1V1210.8H868.9L869.5 1225.7V1224.4H871.1H872.7V1224.6v-1.6v1.6V1224.6V1224.4H874.3V1223.6H875.9v-2.5v2.5V1223.6H878.0V1224.4v-2v3.6V1224.4V1224.6H880.2L880.8 1216.1H882.3V1214.0L882.3 1199.2V1203.3H884.4L884.4 1219.3H886.0V1219.8v-2v2V1219.8H887.6V1221.9v-2v2.8V1221.9V1226.8H889.7v-1.2v2.4V1226.8V1228.2H891.8v-2.5v3.3V1228.2V1227.5H893.4v-2v2V1227.5H895.0V1224.6H896.6V1226.0H898.2V1227.8H899.8V1226.0v-1.2v2.0V1226.0H901.4V1225.3L902.4 1215.1H904.6V1215.4L905.0 1223.6V1217.2H907.1v-1.6v2.4000000000000004V1217.2L907.7 1210.8V1217.6H909.9L909.9 1225.7V1226.0H912.0H914.1V1223.6H916.2V1226.0v-1.6v3.2V1226.0V1226.0H918.0v-2v2.8V1226.0H919.8V1226.0V1226.3H921.5v-1.2v2.4V1226.3L921.5 1217.6V1217.2H923.2L923.2 1201.3H925.1V1200.2v-2v2V1200.2L925.1 1183.3L926.8 1200.2L926.8 1222.5V1222.9H928.4H930.0V1223.6v-1.6v3.2V1223.6V1224.4H931.6V1224.6H933.2L933.2 1213.0V1207.7H935.3L936.4 1217.6L936.8 1224.6H940.8H944.9V1226.0H947.0V1223.6H949.1v-1.6v2.4000000000000004V1223.6V1224.4H951.2v-1.6v2.4000000000000004V1224.4H953.4V1224.6v-2.5v2.5V1224.6H956.0H958.7V1227.8H959.7v-2v3.2V1227.8H961.9V1230.5v-1.6v1.6V1230.5V1228.9H964.0H965.6V1230.5H967.2V1227.8H968.8V1230.5H970.3V1229.9v-1.6v2.8V1229.9V1232.1H971.4v-2v2V1232.1H973.0V1230.5v-2v2.8V1230.5V1231.0H974.6H976.7V1232.1v-2v3.2V1232.1V1232.5H978.8v-2.5v2.5V1232.5H980.4V1230.5v-2v3.6V1230.5H982.0V1231.6V1232.1H983.8H985.6V1230.5v-1.2v2.4V1230.5H987.3V1233.1v-1.2v2.8V1233.1H988.9V1233.6v-2.5v3.3V1233.6H990.5V1234.6v-2v2.8V1234.6V1233.6H992.3H994.0V1233.6V1233.1H995.8v-1.6v2.4000000000000004V1233.1V1232.1H997.9V1235.2H1000.1v-1.2v2.0V1235.2H1002.2V1235.1v-2v3.2V1235.1H1004.3V1233.1v-2.5v2.5V1233.1V1235.5H1006.4v-1.6v1.6V1235.5H1008.0V1236.7v-1.2v2.0V1236.7H1009.6V1237.8v-1.2v1.2V1237.8" fill="none" stroke-width="1.45" stroke-linejoin="miter" stroke-miterlimit="2"/>
<path d="M865.3 1225.7h2.7M867.4 1215.1h2.7M868.9 1210.8h2.7M869.5 1225.7h2.7M871.1 1224.4h2.7M874.3 1224.4h2.7M875.9 1223.6h2.7M878.0 1224.4h2.7M880.2 1224.6h2.7M882.3 1214.0h2.7M882.3 1199.2h2.7M884.4 1219.3h2.7M886.0 1219.8h2.7M887.6 1221.9h2.7M889.7 1226.8h2.7M891.8 1228.2h2.7M893.4 1227.5h2.7M895.0 1224.6h2.7M896.6 1226.0h2.7M898.2 1227.8h2.7M899.8 1226.0h2.7M901.4 1225.3h2.7M902.4 1215.1h2.7M904.6 1215.4h2.7M905.0 1223.6h2.7M907.7 1210.8h2.7M909.9 1217.6h2.7M909.9 1225.7h2.7M912.0 1226.0h2.7M914.1 1223.6h2.7M916.2 1226.0h2.7M918.0 1226.0h2.7M919.8 1226.0h2.7M921.5 1226.3h2.7M921.5 1217.6h2.7M923.2 1217.2h2.7M923.2 1201.3h2.7M925.1 1200.2h2.7M926.8 1200.2h2.7M926.8 1222.5h2.7M928.4 1222.9h2.7M930.0 1223.6h2.7M931.6 1224.4h2.7M933.2 1224.6h2.7M933.2 1213.0h2.7M935.3 1207.7h2.7M936.8 1224.6h2.7M944.9 1224.6h2.7M947.0 1226.0h2.7M949.1 1223.6h2.7M951.2 1224.4h2.7M953.4 1224.6h2.7M959.7 1227.8h2.7M961.9 1230.5h2.7M964.0 1228.9h2.7M965.6 1230.5h2.7M967.2 1227.8h2.7M968.8 1230.5h2.7M970.3 1229.9h2.7M971.4 1232.1h2.7M973.0 1230.5h2.7M974.6 1231.0h2.7M976.7 1232.1h2.7M978.8 1232.5h2.7M980.4 1230.5h2.7M982.0 1231.6h2.7M983.8 1232.1h2.7M985.6 1230.5h2.7M987.3 1233.1h2.7M988.9 1233.6h2.7M990.5 1234.6h2.7M992.3 1233.6h2.7M994.0 1233.6h2.7M995.8 1233.1h2.7M997.9 1232.1h2.7M1000.1 1235.2h2.7M1002.2 1235.1h2.7M1004.3 1233.1h2.7M1006.4 1235.5h2.7M1008.0 1236.7h2.7M1009.6 1237.8h2.7" fill="none" stroke-width="1.3"/>
<path d="M1052.0 1237.8V1234.2H1053.1L1054.2 1239.5H1056.3V1237.8v-1.6v2.4000000000000004V1237.8" fill="none" stroke-width="1.45" stroke-linejoin="miter" stroke-miterlimit="2"/>
<path d="M1052.0 1237.8h2.7M1053.1 1234.2h2.7M1054.2 1239.5h2.7M1056.3 1237.8h2.7" fill="none" stroke-width="1.3"/>
<path d="M1139.0 1237.8L1139.5 1232.1H1141.2V1229.2L1141.2 1197.0L1142.2 1207.7V1208.4H1142.9v-1.2v2.0V1208.4L1143.3 1236.3V1238.6H1145.4v-1.6v1.6V1238.6H1147.5V1238.2H1149.7V1237.8L1150.1 1240.5" fill="none" stroke-width="1.45" stroke-linejoin="miter" stroke-miterlimit="2"/>
<path d="M1139.5 1232.1h2.7M1141.2 1229.2h2.7M1141.2 1197.0h2.7M1142.2 1207.7h2.7M1142.9 1208.4h2.7M1143.3 1236.3h2.7M1145.4 1238.6h2.7M1147.5 1238.2h2.7M1149.7 1237.8h2.7M1150.1 1240.5h2.7" fill="none" stroke-width="1.3"/>
<path d="M1252.5 1237.8L1252.9 1229.9H1255.2V1232.4L1255.6 1237.8" fill="none" stroke-width="1.45" stroke-linejoin="miter" stroke-miterlimit="2"/>
<path d="M1252.5 1237.8h2.7M1252.9 1229.9h2.7M1255.2 1232.4h2.7M1255.6 1237.8h2.7" fill="none" stroke-width="1.3"/>
<path d="M1360.7 1237.8L1361.3 1228.9H1362.2V1224.9v-1.6v2.4000000000000004V1224.9L1362.8 1233.1V1233.1H1364.3v-2v3.6V1233.1L1363.9 1240.5L1364.3 1237.8" fill="none" stroke-width="1.45" stroke-linejoin="miter" stroke-miterlimit="2"/>
<path d="M1360.7 1237.8h2.7M1361.3 1228.9h2.7M1362.2 1224.9h2.7M1362.8 1233.1h2.7M1364.3 1233.1h2.7M1363.9 1240.5h2.7M1364.3 1237.8h2.7" fill="none" stroke-width="1.3"/>
<path d="M1414.8 1237.8L1414.8 1196.0H1416.5V1192.8v-1.6v3.2V1192.8L1416.5 1183.3L1416.9 1210.8H1419.0V1211.3v-2.5v2.5V1211.3L1419.0 1233.1H1421.2V1234.2V1236.7H1423.3V1235.5H1425.4v-1.2v1.2V1235.5H1428.6H1431.8L1432.2 1234.2V1235.1H1433.6V1235.2H1434.9v-1.6v2.8V1235.2H1436.0V1236.0H1440.4H1444.8H1449.2v-2.5v2.5V1236.7H1453.6H1458.0H1462.4H1466.8H1467.4V1234.2v-2v2V1234.2V1235.1H1469.7V1235.2H1472.1v-1.2v2.8V1235.2V1235.1H1473.7v-2.5v3.3V1235.1V1235.9H1475.3v-1.2v2.4V1235.9H1477.4V1233.0v-1.6v1.6V1233.0H1478.9V1236.0" fill="none" stroke-width="1.45" stroke-linejoin="miter" stroke-miterlimit="2"/>
<path d="M1414.8 1237.8h2.7M1414.8 1196.0h2.7M1416.5 1183.3h2.7M1416.9 1210.8h2.7M1419.0 1211.3h2.7M1419.0 1233.1h2.7M1423.3 1236.7h2.7M1425.4 1235.5h2.7M1428.6 1236.3h2.7M1432.2 1234.2h2.7M1433.6 1235.1h2.7M1434.9 1235.2h2.7M1436.0 1236.0h2.7M1444.8 1236.7h2.7M1467.4 1234.2h2.7M1469.7 1235.1h2.7M1472.1 1235.2h2.7M1473.7 1235.1h2.7M1475.3 1235.9h2.7M1477.4 1233.0h2.7M1478.9 1236.0h2.7" fill="none" stroke-width="1.3"/>
<path d="M192.3 1668.0L192.5 1658.9L194.0 1651.4L194.0 1605.8V1600.2H195.7L196.1 1593.1L196.5 1604.8L198.2 1612.2L198.2 1627.0V1629.2H199.9L199.9 1647.2H201.8V1651.7L203.1 1657.8V1660.9H205.2v-2.5v2.5V1660.9H208.8v-1.5v1.5V1661.6H212.4L213.1 1638.7V1635.8H214.5L214.5 1627.7H216.5V1628.2v-1.6v2.8V1628.2H218.4V1628.1v-1.6v1.6V1628.1L218.4 1637.7H220.5V1639.8L220.9 1648.3H222.6V1649.6v-1.2v2.0V1649.6L223.0 1656.8V1662.1H224.7v-1.2v2.0V1662.1H226.9V1664.5V1664.9H228.1v-2v3.6V1664.9V1664.2H229.4v-2v2V1664.2L229.6 1634.5L231.1 1627.0L231.5 1618.6L232.8 1624.9L233.6 1632.4L233.6 1652.5H235.3V1649.3L235.8 1640.8H237.7V1640.5v-1.2v2.4V1640.5V1640.8H239.6H241.3V1645.1V1649.0H242.8L243.8 1652.5H246.0V1655.7v-1.2v2.0V1655.7H247.7V1660.2v-2.5v3.3V1660.2H250.5H253.4L253.8 1635.5L255.5 1628.1L255.5 1598.0V1596.1H256.9V1594.8H258.3L258.3 1604.8H259.7V1609.0v-2v3.2V1609.0L259.7 1635.5H261.2V1639.0L261.9 1653.6V1655.7H264.0L264.0 1661.0V1666.4H266.1v-2v2V1666.4H267.9V1664.9H269.7V1664.2V1659.2H271.4V1658.1H273.5L273.5 1646.1H275.0V1640.8L275.0 1624.9L276.1 1620.7V1623.9H278.2L278.2 1633.4V1634.9H280.3L281.0 1647.2H283.1V1648.9L283.7 1653.6L285.2 1659.9V1654.6H287.3v-1.6v2.8V1654.6L288.8 1641.9V1640.1H290.1L290.1 1626.4V1622.5H291.6L291.6 1615.4H293.0V1616.0v-2v2V1616.0H294.3V1617.5v-1.2v2.8V1617.5L294.3 1624.9H295.8V1626.7v-1.6v1.6V1626.7L295.8 1648.3V1650.4H297.9L298.6 1664.2V1663.4H300.4v-1.2v2.4V1663.4V1663.1H302.2H304.3V1663.4V1659.9H306.4H307.8V1657.3V1653.6H309.2v-2v2V1653.6L310.0 1641.9H311.7V1641.6v-1.6v1.6V1641.6L311.7 1632.4H313.9V1634.9v-2v2.8V1634.9L314.3 1640.8H316.0V1643.7L316.0 1648.3H317.6V1649.6H319.2V1649.3v-2.5v2.5V1649.3L320.2 1654.6H322.3V1652.5L322.3 1640.8H324.0V1640.5L324.0 1628.5H326.2V1631.3L326.2 1647.2V1648.3H328.3v-2.5v3.7V1648.3L328.3 1655.7H330.1V1657.3H331.9V1657.8v-1.6v2.8V1657.8L333.0 1662.5V1663.4H334.5H336.1V1661.6v-1.6v1.6V1661.6L336.8 1654.6V1654.2H338.6V1652.5H340.4H342.5V1648.6L343.6 1644.0L344.6 1637.7V1639.8H346.8v-2v3.6V1639.8L347.4 1647.2H348.9V1653.3v-1.6v3.2V1653.3V1646.1H351.0L352.1 1641.3V1641.9H353.8v-2v3.6V1641.9L354.2 1651.4V1653.9H356.3L356.7 1661.0H358.8V1656.8L359.5 1651.4V1648.0H361.6V1648.1H363.2V1648.3H364.8v-2.5v3.3V1648.3V1647.6H366.9H369.0V1654.3H371.2V1651.2L372.2 1645.1H374.3V1643.5v-1.2v2.0V1643.5H376.5V1643.0H378.6V1645.8V1648.9H380.1V1646.6H381.4H382.8V1644.7H384.9V1648.6V1652.8H387.1v-1.6v2.8V1652.8H388.7V1652.7V1653.6H390.3v-1.6v2.4000000000000004V1653.6L390.7 1640.8H392.4V1635.2L391.9 1605.8H394.1V1598.4L394.1 1581.4H396.2V1580.7L396.2 1591.0H397.7V1591.3v-1.2v2.0V1591.3L397.7 1609.0V1610.7H399.8v-2.5v2.5V1610.7L399.8 1623.9H401.3V1624.8v-2v2.8V1624.8L401.3 1636.6V1638.7H403.4v-2.5v4.1V1638.7L404.0 1645.1V1650.1H406.2v-2.5v4.1V1650.1V1648.1H407.8V1647.6H409.4v-2.5v3.7V1647.6H412.0H414.7L414.7 1643.0V1643.5H416.0V1643.4H417.4L417.8 1649.3H420.5H423.1L424.2 1655.7H426.3V1654.2v-2.5v3.3V1654.2V1654.0H428.4H429.7V1652.7H431.0V1650.4v-2.5v3.3V1650.4L431.6 1644.0H433.1V1641.9v-1.6v2.4000000000000004V1641.9H435.2V1644.3v-1.2v2.4V1644.3H437.1V1645.0v-2v3.6V1645.0H439.1V1644.0v-1.2v2.8V1644.0V1645.0H440.6H442.2V1646.1L443.3 1652.5H445.0V1653.6v-1.6v3.2V1653.6H446.5V1654.2V1653.6H448.0v-1.2v1.2V1653.6V1654.2H449.6v-2v2.8V1654.2H451.2V1655.7H453.3V1655.8V1658.2H455.5v-2.5v3.3V1658.2H457.3V1657.3v-1.2v2.4V1657.3V1658.8H459.2V1658.8H461.0H462.9V1658.9H465.0V1658.8V1659.9H467.1v-1.6v3.2V1659.9V1660.3H468.9v-1.2v1.2V1660.3H470.7V1661.9V1661.0H472.4v-2v2.8V1661.0H474.6V1660.3v-1.2v2.0V1660.3H476.7V1661.9V1659.9H478.8V1660.3H480.4H482.0V1661.6H487.0H492.1H497.1H502.1V1659.6H504.3H505.9V1660.3H507.5V1661.6v-2.5v4.1V1661.6H512.5H517.5H522.6H527.6V1660.3H529.2H530.8V1659.9V1658.8H532.4v-1.2v2.4V1658.8H534.0V1656.8v-1.2v1.2V1656.8H536.1V1653.6V1651.9H538.2v-2.5v4.1V1651.9V1655.4H540.3V1658.2H542.5V1658.8H544.1v-2.5v3.7V1658.8V1661.0H545.6H547.2V1660.3V1659.9H548.8v-1.6v2.8V1659.9H553.8H558.7H563.7v-2v3V1659.9H565.3V1661.9v-1.2v2.0V1661.9H566.9V1663.1H571.1H575.4H579.6V1661.6H581.7V1661.9H583.8v-1.2v1.2V1661.9H586.0V1661.6H588.1V1659.9v-2.5v3.3V1659.9H590.2V1662.4v-2.5v2.5V1662.4H592.3V1663.1v-2.5v3.7V1663.1H596.2H600.1H604.0H605.1V1661.0H606.9V1663.4H608.8V1661.9v-2.5v3.3V1661.9H610.6V1661.9H612.5V1661.6v-1.2v2.4V1661.6H613.6V1662.4v-2.5v3.7V1662.4H616.7H619.9v-2v3V1663.1H621.0V1666.4V1663.9H623.1v-1.6v3.2V1663.9V1662.1H625.2v-1.6v2.8V1662.1L625.6 1651.4H627.8V1643.7v-1.6v1.6V1643.7L627.8 1587.8L630.5 1561.3L629.5 1477.4L631.6 1454.1L631.6 1439.7L632.0 1452.0L633.7 1460.5L633.7 1511.4L635.8 1527.3L634.8 1576.1L637.3 1588.2L636.9 1621.7V1626.9H639.0L639.0 1645.1H640.5V1646.8L640.5 1654.6V1659.9H642.6H644.0V1660.3v-2v2.8V1660.3H645.4V1662.1H649.1H652.8v-1.5v1.5V1662.1V1663.4H654.9v-2.5v2.5V1663.4H657.1V1664.2v-2.5v4.1V1664.2V1663.4H659.2v-1.2v2.0V1663.4H661.3V1662.1v-2v3.6V1662.1V1657.8H663.4H665.0V1657.3V1656.1H666.6H668.2V1658.8V1658.9H669.8V1660.3H671.4V1662.1H673.0V1663.4H675.1v-2v3.2V1663.4V1664.2H677.2V1661.9H679.0v-2.5v2.5V1661.9V1663.4H680.8v-1.2v1.2V1663.4V1663.1H682.5v-2v3.2V1663.1H686.8H691.0H695.3H699.5H700.6V1659.2H702.1V1660.3V1660.4H703.7V1661.9H705.3H706.9V1662.5v-1.6v2.8V1662.5V1663.4H708.7V1661.9H710.5v-1.2v2.8V1661.9V1663.1H712.2H714.4V1664.6H716.1V1664.9V1663.4H717.9v-2v3.6V1663.4V1665.2H719.7V1664.9H721.8V1664.9H723.9V1666.5H726.0v-1.2v2.8V1666.5H728.1V1664.8V1662.4H729.2H732.4H735.6V1664.5H736.6v-2.5v3.7V1664.5H740.9H745.1" fill="none" stroke-width="1.45" stroke-linejoin="miter" stroke-miterlimit="2"/>
<path d="M192.3 1668.0h2.7M192.5 1658.9h2.7M194.0 1651.4h2.7M194.0 1605.8h2.7M195.7 1600.2h2.7M196.1 1593.1h2.7M198.2 1612.2h2.7M198.2 1627.0h2.7M199.9 1629.2h2.7M199.9 1647.2h2.7M201.8 1651.7h2.7M203.1 1657.8h2.7M205.2 1660.9h2.7M212.4 1661.6h2.7M213.1 1638.7h2.7M214.5 1635.8h2.7M214.5 1627.7h2.7M218.4 1628.1h2.7M218.4 1637.7h2.7M220.5 1639.8h2.7M220.9 1648.3h2.7M222.6 1649.6h2.7M223.0 1656.8h2.7M224.7 1662.1h2.7M226.9 1664.5h2.7M228.1 1664.9h2.7M229.4 1664.2h2.7M229.6 1634.5h2.7M231.5 1618.6h2.7M232.8 1624.9h2.7M233.6 1632.4h2.7M233.6 1652.5h2.7M235.3 1649.3h2.7M235.8 1640.8h2.7M237.7 1640.5h2.7M239.6 1640.8h2.7M241.3 1645.1h2.7M242.8 1649.0h2.7M243.8 1652.5h2.7M246.0 1655.7h2.7M247.7 1660.2h2.7M253.8 1635.5h2.7M255.5 1628.1h2.7M255.5 1598.0h2.7M256.9 1596.1h2.7M258.3 1594.8h2.7M258.3 1604.8h2.7M259.7 1635.5h2.7M261.2 1639.0h2.7M261.9 1653.6h2.7M264.0 1655.7h2.7M264.0 1661.0h2.7M266.1 1666.4h2.7M267.9 1664.9h2.7M271.4 1659.2h2.7M273.5 1658.1h2.7M273.5 1646.1h2.7M275.0 1640.8h2.7M275.0 1624.9h2.7M276.1 1620.7h2.7M278.2 1623.9h2.7M281.0 1647.2h2.7M283.1 1648.9h2.7M283.7 1653.6h2.7M285.2 1659.9h2.7M287.3 1654.6h2.7M288.8 1641.9h2.7M290.1 1640.1h2.7M290.1 1626.4h2.7M291.6 1622.5h2.7M291.6 1615.4h2.7M293.0 1616.0h2.7M294.3 1624.9h2.7M295.8 1626.7h2.7M295.8 1648.3h2.7M297.9 1650.4h2.7M298.6 1664.2h2.7M300.4 1663.4h2.7M302.2 1663.1h2.7M304.3 1663.4h2.7M306.4 1659.9h2.7M307.8 1657.3h2.7M309.2 1653.6h2.7M310.0 1641.9h2.7M311.7 1641.6h2.7M311.7 1632.4h2.7M313.9 1634.9h2.7M314.3 1640.8h2.7M316.0 1643.7h2.7M316.0 1648.3h2.7M317.6 1649.6h2.7M319.2 1649.3h2.7M320.2 1654.6h2.7M322.3 1652.5h2.7M322.3 1640.8h2.7M324.0 1628.5h2.7M326.2 1647.2h2.7M328.3 1648.3h2.7M328.3 1655.7h2.7M330.1 1657.3h2.7M331.9 1657.8h2.7M333.0 1662.5h2.7M334.5 1663.4h2.7M336.8 1654.6h2.7M338.6 1654.2h2.7M340.4 1652.5h2.7M342.5 1648.6h2.7M343.6 1644.0h2.7M344.6 1637.7h2.7M346.8 1639.8h2.7M347.4 1647.2h2.7M348.9 1653.3h2.7M351.0 1646.1h2.7M352.1 1641.3h2.7M353.8 1641.9h2.7M354.2 1651.4h2.7M356.3 1653.9h2.7M356.7 1661.0h2.7M359.5 1651.4h2.7M361.6 1648.0h2.7M363.2 1648.1h2.7M364.8 1648.3h2.7M366.9 1647.6h2.7M369.0 1654.3h2.7M374.3 1643.5h2.7M376.5 1643.0h2.7M378.6 1645.8h2.7M380.1 1648.9h2.7M382.8 1644.7h2.7M384.9 1648.6h2.7M387.1 1652.8h2.7M388.7 1652.7h2.7M390.3 1653.6h2.7M390.7 1640.8h2.7M392.4 1635.2h2.7M391.9 1605.8h2.7M394.1 1581.4h2.7M396.2 1580.7h2.7M396.2 1591.0h2.7M397.7 1591.3h2.7M397.7 1609.0h2.7M399.8 1610.7h2.7M399.8 1623.9h2.7M401.3 1624.8h2.7M401.3 1636.6h2.7M403.4 1638.7h2.7M404.0 1645.1h2.7M406.2 1650.1h2.7M407.8 1648.1h2.7M409.4 1647.6h2.7M414.7 1643.0h2.7M416.0 1643.5h2.7M417.4 1643.4h2.7M417.8 1649.3h2.7M424.2 1655.7h2.7M426.3 1654.2h2.7M428.4 1654.0h2.7M429.7 1652.7h2.7M431.0 1650.4h2.7M431.6 1644.0h2.7M433.1 1641.9h2.7M437.1 1645.0h2.7M439.1 1644.0h2.7M440.6 1645.0h2.7M442.2 1646.1h2.7M443.3 1652.5h2.7M445.0 1653.6h2.7M446.5 1654.2h2.7M448.0 1653.6h2.7M449.6 1654.2h2.7M453.3 1655.8h2.7M455.5 1658.2h2.7M457.3 1657.3h2.7M461.0 1658.8h2.7M462.9 1658.9h2.7M465.0 1658.8h2.7M467.1 1659.9h2.7M468.9 1660.3h2.7M470.7 1661.9h2.7M472.4 1661.0h2.7M474.6 1660.3h2.7M478.8 1659.9h2.7M480.4 1660.3h2.7M482.0 1661.6h2.7M504.3 1659.6h2.7M505.9 1660.3h2.7M507.5 1661.6h2.7M527.6 1661.6h2.7M529.2 1660.3h2.7M530.8 1659.9h2.7M532.4 1658.8h2.7M534.0 1656.8h2.7M536.1 1653.6h2.7M538.2 1651.9h2.7M540.3 1655.4h2.7M542.5 1658.2h2.7M544.1 1658.8h2.7M545.6 1661.0h2.7M548.8 1659.9h2.7M565.3 1661.9h2.7M566.9 1663.1h2.7M581.7 1661.6h2.7M583.8 1661.9h2.7M586.0 1661.6h2.7M588.1 1659.9h2.7M590.2 1662.4h2.7M605.1 1661.0h2.7M606.9 1663.4h2.7M608.8 1661.9h2.7M610.6 1661.9h2.7M612.5 1661.6h2.7M613.6 1662.4h2.7M619.9 1663.1h2.7M621.0 1666.4h2.7M623.1 1663.9h2.7M625.2 1662.1h2.7M625.6 1651.4h2.7M627.8 1643.7h2.7M627.8 1587.8h2.7M630.5 1561.3h2.7M629.5 1477.4h2.7M631.6 1454.1h2.7M631.6 1439.7h2.7M633.7 1460.5h2.7M633.7 1511.4h2.7M635.8 1527.3h2.7M634.8 1576.1h2.7M637.3 1588.2h2.7M636.9 1621.7h2.7M639.0 1626.9h2.7M639.0 1645.1h2.7M640.5 1646.8h2.7M640.5 1654.6h2.7M644.0 1660.3h2.7M645.4 1662.1h2.7M654.9 1663.4h2.7M657.1 1664.2h2.7M659.2 1663.4h2.7M661.3 1662.1h2.7M663.4 1657.8h2.7M665.0 1657.3h2.7M666.6 1656.1h2.7M668.2 1658.8h2.7M669.8 1658.9h2.7M671.4 1660.3h2.7M673.0 1662.1h2.7M675.1 1663.4h2.7M677.2 1664.2h2.7M680.8 1663.4h2.7M682.5 1663.1h2.7M700.6 1659.2h2.7M702.1 1660.3h2.7M703.7 1660.4h2.7M705.3 1661.9h2.7M708.7 1663.4h2.7M712.2 1663.1h2.7M714.4 1664.6h2.7M716.1 1664.9h2.7M719.7 1665.2h2.7M721.8 1664.9h2.7M723.9 1664.9h2.7M726.0 1666.5h2.7M729.2 1662.4h2.7M732.4 1663.1h2.7M736.6 1664.5h2.7" fill="none" stroke-width="1.3"/>
<path d="M871.4 1654.6H873.1V1649.3L874.5 1641.9L875.6 1654.6L876.7 1643.0L877.7 1654.6H882.0H886.2V1653.9H888.3V1652.8H889.9H891.5V1653.6V1651.4H892.6H894.7V1651.1H895.8V1654.9V1655.9H897.4v-2.5v3.3V1655.9V1656.8H899.0v-2.5v3.3V1656.8H901.1V1659.0H902.7V1658.9v-1.6v1.6V1658.9V1656.8H904.3V1659.2H906.4v-2.5v3.7V1659.2H908.5V1656.5V1655.9H910.6v-1.6v2.4000000000000004V1655.9V1655.9H912.7v-1.6v1.6V1655.9H914.9V1655.9V1656.1H917.0v-1.6v3.2V1656.1V1660.3H918.1v-2v2.8V1660.3H922.8H927.6H932.4H937.1H939.3V1660.9v-1.2v2.0V1660.9H941.4V1657.0H943.5V1661.1H946.7H949.9V1662.4H952.0v-2.5v4.1V1662.4V1663.9H954.1H958.7H963.3H967.9v-1.5v2.5V1663.1H969.0V1662.4v-1.2v2.8V1662.4H970.6V1663.5v-1.2v2.8V1663.5V1662.1H972.2v-1.2v1.2V1662.1V1663.5H973.8v-2.5v2.5V1663.5V1663.5H975.3v-1.2v2.4V1663.5V1665.2H976.4v-1.2v2.8V1665.2H980.4H984.4v-1.5v1.5V1665.2H988.3H992.3V1663.8H993.4v-1.6v1.6V1663.8V1666.3H995.5v-1.6v1.6V1666.3H997.6V1665.2v-1.2v2.8V1665.2V1667.1H998.7v-1.6v2.4000000000000004V1667.1" fill="none" stroke-width="1.45" stroke-linejoin="miter" stroke-miterlimit="2"/>
<path d="M871.4 1654.6h2.7M873.1 1649.3h2.7M874.5 1641.9h2.7M876.7 1643.0h2.7M877.7 1654.6h2.7M882.0 1654.6h2.7M888.3 1653.9h2.7M889.9 1652.8h2.7M891.5 1653.6h2.7M892.6 1651.4h2.7M894.7 1651.1h2.7M897.4 1655.9h2.7M899.0 1656.8h2.7M901.1 1659.0h2.7M902.7 1658.9h2.7M904.3 1656.8h2.7M906.4 1659.2h2.7M908.5 1656.5h2.7M910.6 1655.9h2.7M912.7 1655.9h2.7M914.9 1655.9h2.7M918.1 1660.3h2.7M943.5 1661.1h2.7M954.1 1663.9h2.7M963.3 1663.1h2.7M969.0 1662.4h2.7M970.6 1663.5h2.7M972.2 1662.1h2.7M973.8 1663.5h2.7M975.3 1663.5h2.7M976.4 1665.2h2.7M984.4 1665.2h2.7M988.3 1665.2h2.7M993.4 1663.8h2.7M995.5 1666.3h2.7M997.6 1665.2h2.7M998.7 1667.1h2.7" fill="none" stroke-width="1.3"/>
<path d="M1147.0 1666.3L1147.0 1623.9H1148.9V1623.1L1148.9 1656.8V1657.0H1151.3L1151.3 1666.3" fill="none" stroke-width="1.45" stroke-linejoin="miter" stroke-miterlimit="2"/>
<path d="M1147.0 1666.3h2.7M1147.0 1623.9h2.7M1148.9 1623.1h2.7M1151.3 1657.0h2.7M1151.3 1666.3h2.7" fill="none" stroke-width="1.3"/>
<path d="M1259.6 1666.3L1259.6 1656.8V1654.6H1260.6v-2.5v3.3V1654.6L1261.7 1661.0H1263.8V1660.9L1263.8 1665.2H1269.1H1274.4L1274.9 1668.4L1275.3 1665.2V1665.1H1277.0V1665.2H1278.7H1279.7V1668.0H1281.3V1668.1H1282.9V1667.4H1285.0V1663.9L1285.5 1665.2V1665.1H1287.7v-2v2V1665.1V1665.2H1289.9v-2v2.8V1665.2L1289.9 1668.4L1290.3 1665.2H1295.0H1299.6v-2.5v3.5V1665.2H1304.2H1308.8H1313.4H1318.1v-2v2V1665.2H1322.7v-2v3V1665.2H1327.3H1331.9H1336.5H1341.1H1345.8H1350.4H1355.0H1359.6H1364.2H1368.9L1368.9 1661.6H1371.0V1663.1v-2v3.2V1663.1H1372.0V1664.5H1376.8H1381.6H1386.3H1391.1v-2v3V1665.2H1395.8H1400.6H1405.4L1405.4 1661.0L1405.8 1665.2H1410.7H1415.5H1416.6V1663.5V1662.0H1418.7v-2v3.2V1662.0H1420.8V1662.7L1420.8 1654.6H1423.0V1653.3L1423.0 1606.9V1610.7H1424.5v-2.5v2.5V1610.7L1424.5 1650.4H1426.6V1652.6v-1.6v2.4000000000000004V1652.6L1427.2 1658.9V1662.0H1428.8H1430.4V1661.0H1435.0H1439.6H1444.2H1448.8H1453.4H1458.0H1462.6H1467.2H1471.8H1476.4H1481.0v-2v2V1661.0H1485.6" fill="none" stroke-width="1.45" stroke-linejoin="miter" stroke-miterlimit="2"/>
<path d="M1259.6 1666.3h2.7M1259.6 1656.8h2.7M1260.6 1654.6h2.7M1261.7 1661.0h2.7M1263.8 1660.9h2.7M1263.8 1665.2h2.7M1269.1 1665.2h2.7M1274.9 1668.4h2.7M1275.3 1665.2h2.7M1277.0 1665.1h2.7M1278.7 1665.2h2.7M1279.7 1668.0h2.7M1281.3 1668.1h2.7M1282.9 1667.4h2.7M1285.0 1663.9h2.7M1285.5 1665.2h2.7M1287.7 1665.1h2.7M1289.9 1665.2h2.7M1289.9 1668.4h2.7M1290.3 1665.2h2.7M1295.0 1665.2h2.7M1313.4 1665.2h2.7M1331.9 1665.2h2.7M1336.5 1665.2h2.7M1364.2 1665.2h2.7M1368.9 1661.6h2.7M1371.0 1663.1h2.7M1372.0 1664.5h2.7M1405.4 1661.0h2.7M1405.8 1665.2h2.7M1416.6 1663.5h2.7M1418.7 1662.0h2.7M1420.8 1662.7h2.7M1420.8 1654.6h2.7M1423.0 1653.3h2.7M1423.0 1606.9h2.7M1424.5 1610.7h2.7M1426.6 1652.6h2.7M1427.2 1658.9h2.7M1428.8 1662.0h2.7M1430.4 1661.0h2.7M1458.0 1661.0h2.7" fill="none" stroke-width="1.3"/>
</g></svg>
</body></html>
